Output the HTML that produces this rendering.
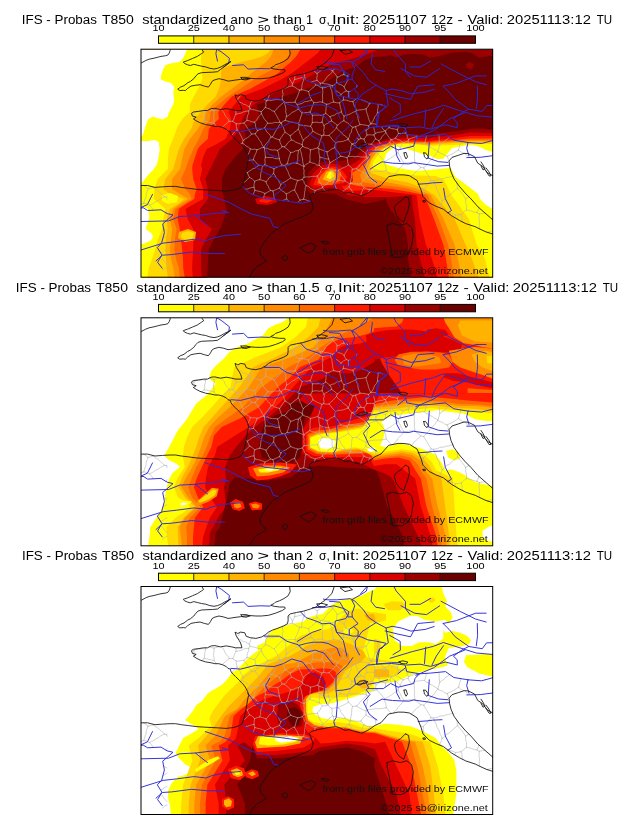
<!DOCTYPE html>
<html><head><meta charset="utf-8"><style>
html,body{margin:0;padding:0;background:#fff;}
svg{display:block;will-change:transform;}
.tt{font-family:"Liberation Sans",sans-serif;font-size:12.5px;fill:#000;}
.lb{font-family:"Liberation Sans",sans-serif;font-size:8.4px;fill:#000;}
.sm{font-family:"Liberation Sans",sans-serif;font-size:9px;fill:#111;}
</style></head><body>
<svg width="630" height="828" viewBox="0 0 630 828">
<defs><g id="LN" fill="none" stroke-linejoin="round" stroke-linecap="round">
<path d="M137.5,101.5 L138.5,104.2 L138.8,107.0 L139.4,109.7 M137.5,101.5 L135.0,101.0 L132.3,101.1 L129.7,100.6 L127.3,99.4 L124.6,99.4 M139.4,109.7 L137.0,109.9 L134.7,109.6 L132.4,108.6 L130.0,108.7 L127.7,108.6 L125.4,108.3 M125.4,108.3 L125.2,106.0 L125.1,103.8 L124.6,101.6 L124.6,99.4 M123.4,49.7 L126.4,51.9 M129.3,45.5 L128.6,48.6 L127.2,51.4 M127.2,51.4 L126.4,51.9 M112.0,51.7 L110.8,53.7 L110.0,55.9 L109.3,58.0 M100.4,46.0 L98.8,48.6 L97.2,51.2 M97.5,51.8 L99.3,53.1 L101.4,53.9 L103.2,55.3 L105.5,55.7 L107.3,57.0 L109.3,58.0 M121.2,62.8 L119.0,62.2 L116.7,61.7 L114.5,60.9 L112.3,60.7 L110.1,59.9 M121.2,62.8 L123.4,60.8 L125.3,58.5 M125.3,58.5 L126.0,56.3 L125.7,54.0 L126.4,51.9 M109.3,58.0 L110.1,59.9 M107.3,123.7 L109.2,122.4 L111.1,121.1 L113.0,119.7 L115.3,119.1 L117.0,117.6 L119.0,116.4 M107.3,123.7 L106.1,122.8 M119.0,116.4 L116.9,114.8 L115.4,112.6 L113.4,110.9 M113.4,110.9 L110.8,111.3 L108.1,111.3 M110.2,99.9 L112.4,100.5 L114.8,100.2 L117.0,100.8 M110.2,99.9 L109.8,102.1 L108.9,104.1 L107.8,106.1 M117.0,100.8 L116.3,103.4 L115.2,105.8 L114.0,108.2 L113.4,110.9 M92.7,72.4 L93.9,70.1 L94.7,67.6 L95.9,65.3 M92.7,72.4 L96.2,74.8 M107.0,71.5 L107.0,69.1 L107.5,66.8 L108.7,64.5 L108.7,62.1 M107.0,71.5 L103.9,74.1 M95.9,65.3 L98.5,64.6 L101.1,64.2 L103.5,63.0 L106.0,62.3 L108.7,62.1 M96.2,74.8 L98.8,74.9 L101.4,74.4 L103.9,74.1 M139.6,91.0 L140.9,89.0 L142.2,87.1 L143.4,85.1 L145.1,83.5 M139.6,91.0 L137.0,90.2 L134.5,89.4 L132.2,87.9 M132.2,87.9 L133.7,86.1 L134.7,83.9 L135.7,81.8 L137.5,80.1 L138.4,77.8 L139.5,75.7 L141.2,73.9 M145.1,83.5 L144.2,81.0 L143.5,78.6 L141.9,76.5 L141.3,74.0 M141.2,73.9 L141.3,74.0 M137.5,101.5 L140.0,99.9 L142.1,97.8 M142.1,97.8 L141.0,95.6 L140.1,93.4 L139.6,91.0 M124.6,99.4 L123.9,98.6 M123.9,98.6 L123.9,98.4 M132.2,87.9 L131.0,88.3 M123.9,98.4 L125.0,96.2 L126.6,94.3 L128.3,92.5 L129.6,90.3 L131.0,88.3 M114.6,73.2 L116.5,71.3 L117.8,68.9 L119.5,66.8 L121.4,64.9 M114.6,73.2 L115.5,75.3 L115.6,77.6 L116.4,79.8 L117.5,81.8 M117.5,81.8 L119.8,80.7 L122.2,79.9 L124.6,79.1 M124.6,79.1 L126.0,76.6 L127.6,74.3 M127.6,74.3 L126.5,72.3 L124.7,70.8 L123.5,68.9 L122.5,66.8 L121.4,64.9 M121.2,62.8 L121.4,64.9 M107.0,71.5 L109.6,71.9 L112.0,73.0 L114.6,73.2 M108.7,62.1 L110.1,59.9 M111.5,85.2 L110.4,83.2 L109.0,81.5 L107.8,79.6 L106.6,77.7 L105.4,75.8 L103.9,74.1 M111.5,85.2 L115.3,84.8 M115.3,84.8 L117.5,81.8 M115.3,84.8 L116.2,87.0 L118.0,88.5 L118.9,90.7 L120.5,92.4 L121.5,94.5 L122.5,96.6 L123.9,98.4 M131.0,88.3 L130.0,86.2 L128.6,84.5 L126.8,83.0 L125.8,81.0 L124.6,79.1 M139.8,73.3 L141.2,73.9 M139.8,73.3 L137.4,73.8 L134.9,73.3 L132.5,74.3 L130.0,74.4 L127.6,74.3 M125.3,58.5 L127.6,59.4 L130.0,60.1 L131.9,61.8 L134.3,62.5 M134.3,62.5 L135.3,64.7 L136.7,66.7 L137.6,69.0 L139.0,71.0 L139.8,73.3 M107.3,123.7 L108.3,126.1 L109.5,128.5 M109.5,128.5 L107.7,130.4 L105.8,132.3 L103.6,133.7 M160.1,151.2 L157.7,153.7 M160.1,151.2 L158.7,149.3 L157.9,147.1 L156.9,145.0 L155.5,143.1 L154.6,141.0 M146.2,145.0 L148.3,144.1 L150.3,142.9 L152.3,141.7 L154.6,141.0 M146.2,145.0 L146.6,147.5 L146.7,150.0 M149.1,152.6 L146.7,150.0 M192.5,129.5 L193.3,130.2 M192.5,129.5 L190.9,131.0 L188.9,132.1 L187.7,134.1 L186.1,135.6 L184.1,136.7 L182.5,138.2 M193.3,130.2 L193.7,132.9 L194.6,135.5 L195.6,138.1 L196.6,140.6 M182.5,138.2 L182.5,138.7 M182.5,138.7 L185.3,142.0 M188.2,118.9 L185.4,119.7 L182.5,119.6 M188.2,118.9 L189.7,120.7 L191.6,122.1 M182.5,119.6 L181.1,121.4 L180.2,123.5 L178.7,125.3 L177.3,127.1 M191.6,122.1 L192.3,124.5 L191.9,127.1 L192.5,129.5 M177.3,127.1 L178.2,129.4 L179.2,131.7 L180.2,133.9 L181.7,135.9 L182.5,138.2 M146.2,145.0 L144.6,143.3 L142.6,142.3 L140.9,140.9 L139.4,139.2 M139.4,139.2 L137.3,140.2 L135.1,141.1 L132.9,142.1 M146.7,150.0 L142.7,151.7 M132.9,142.1 L133.5,144.2 L133.7,146.4 L134.1,148.6 L134.6,150.8 M132.9,142.1 L130.6,141.5 M123.5,149.3 L124.1,146.9 L125.0,144.6 M125.0,144.6 L127.9,143.1 L130.6,141.5 M201.0,107.4 L199.3,105.3 L198.1,102.9 L196.2,101.0 L194.8,98.7 M201.0,107.4 L198.6,108.5 L196.6,110.1 L194.4,111.3 L192.1,112.6 L190.0,114.0 M190.0,114.0 L188.7,110.1 M188.7,110.1 L188.1,107.7 L187.3,105.3 L187.0,102.9 M187.0,102.9 L189.1,102.2 L190.7,100.5 L192.8,99.6 L194.8,98.7 M74.1,74.5 L74.1,72.0 L73.6,69.5 L73.6,67.0 L74.2,64.5 L73.9,61.9 M74.1,74.5 L71.6,73.7 L69.1,73.3 L66.6,72.6 L64.1,72.4 M64.1,72.4 L64.7,70.0 L64.6,67.5 L65.3,65.1 L65.5,62.7 M73.9,61.9 L71.6,61.4 L69.3,60.6 M65.5,62.7 L66.7,61.6 M89.2,72.4 L88.1,70.3 L86.5,68.5 L85.1,66.7 L84.3,64.3 L82.9,62.4 L81.5,60.5 M89.2,72.4 L87.3,73.8 L85.7,75.4 L83.8,76.8 L82.2,78.5 M76.4,77.5 L74.1,74.5 M79.4,60.4 L76.7,61.2 L73.9,61.9 M52.6,63.7 L53.9,64.5 M53.9,64.5 L53.8,67.6 M53.8,69.7 L53.8,70.3 M56.8,62.8 L53.9,64.5 M56.8,62.8 L56.8,62.7 M56.8,62.8 L59.7,62.8 L62.6,62.3 L65.5,62.7 M64.1,72.4 L61.7,74.4 M92.7,72.4 L89.2,72.4 M95.9,65.3 L95.8,61.6 M168.4,42.6 L169.1,44.7 L169.7,47.0 L170.7,49.1 L171.7,51.2 M168.4,42.6 L170.4,41.1 L172.1,39.3 L174.1,37.9 L175.7,36.0 M171.7,51.2 L173.8,53.6 M175.7,36.0 L178.2,36.7 L180.1,38.3 L182.5,39.0 M182.5,39.0 L182.7,41.4 L182.9,43.8 L182.4,46.1 L182.6,48.5 L182.6,50.8 L182.5,53.2 M173.8,53.6 L176.7,53.8 L179.6,53.0 L182.5,53.2 M154.8,26.7 L154.7,30.4 M148.9,29.0 L150.0,31.0 L151.3,32.9 L152.5,34.9 M154.7,30.4 L153.6,32.6 L152.5,34.9 M152.5,34.9 L152.3,37.0 M144.5,39.3 L147.1,38.5 L149.6,37.5 L152.3,37.0 M127.2,51.4 L129.4,51.3 L131.6,51.6 L133.8,50.9 L136.0,50.7 L138.2,50.6 L140.4,50.9 L142.6,50.9 M142.9,40.0 L142.4,42.7 L143.2,45.4 L142.2,48.1 L142.6,50.9 M134.3,62.5 L135.9,60.9 L137.3,59.1 L139.1,57.7 L140.6,55.9 L142.5,54.6 L144.0,52.9 M142.6,50.9 L144.0,52.9 M163.1,28.4 L160.3,29.0 L157.5,29.9 L154.7,30.4 M163.9,29.2 L163.5,31.6 L162.5,33.8 L162.0,36.1 L161.8,38.6 L161.2,40.9 M161.2,40.9 L159.6,41.2 M159.6,41.2 L157.1,39.9 L154.8,38.2 L152.3,37.0 M142.1,97.8 L144.1,97.9 M144.1,97.9 L146.2,96.5 L147.5,94.2 L149.4,92.5 L151.4,91.0 M145.1,83.5 L147.7,85.0 L150.1,86.7 M150.1,86.7 L150.7,88.9 L151.4,91.0 M97.1,80.8 L98.7,82.7 L99.9,84.9 L101.0,87.1 L102.1,89.3 L103.2,91.5 M97.1,80.8 L95.2,82.5 L93.5,84.4 L91.8,86.4 M100.5,95.3 L102.3,94.2 M102.3,94.2 L103.2,91.5 M111.5,85.2 L109.7,87.1 L107.6,88.7 L105.3,90.0 L103.2,91.5 M96.2,74.8 L96.3,77.8 L97.1,80.8 M110.2,99.9 L108.4,98.2 L106.1,97.2 L104.4,95.4 L102.3,94.2 M123.9,98.6 L121.5,98.9 L119.3,100.1 L117.0,100.8 M105.2,140.3 L107.4,140.1 L109.5,139.3 L111.7,138.6 L114.0,138.4 M113.1,145.7 L114.1,143.5 L114.9,141.3 M114.9,141.3 L114.0,138.4 M109.5,128.5 L112.3,130.1 L114.6,132.4 M114.6,132.4 L114.1,135.4 L114.0,138.4 M125.0,144.6 L122.6,143.5 L120.1,142.6 L117.4,142.1 L114.9,141.3 M166.1,136.7 L168.5,137.6 L170.5,139.4 L172.8,140.6 L175.2,141.5 M166.1,136.7 L165.2,138.9 L165.1,141.3 L164.6,143.5 L164.4,145.8 L164.2,148.1 L163.4,150.3 M175.2,141.5 L174.3,144.4 M163.4,150.3 L165.7,150.8 L167.8,151.9 L170.1,152.4 M177.3,127.1 L175.1,127.5 L172.8,127.4 L170.6,127.8 L168.4,128.1 L166.1,127.9 L163.9,128.5 M182.5,138.7 L180.2,139.9 L177.6,140.6 L175.2,141.5 M162.3,130.5 L163.9,128.5 M162.3,130.5 L163.8,132.4 L164.5,134.9 L166.1,136.7 M160.1,151.2 L163.4,150.3 M154.6,141.0 L155.4,138.7 L156.0,136.2 L156.7,133.8 L157.8,131.6 M157.8,131.6 L160.1,131.1 L162.3,130.5 M139.4,139.2 L140.9,135.6 M157.8,131.6 L155.4,130.8 L153.0,130.1 L150.8,129.0 M140.9,135.6 L142.6,133.9 L144.8,132.9 L146.8,131.7 L148.8,130.3 L150.8,129.0 M139.4,109.7 L139.9,112.0 L140.7,114.1 L142.0,116.1 M150.6,103.7 L148.7,101.5 L146.4,99.6 L144.1,97.9 M150.6,103.7 L149.9,106.0 L149.1,108.2 L148.5,110.5 L147.8,112.8 L147.0,115.0 M147.0,115.0 L144.9,116.6 M142.0,116.1 L144.9,116.6 M179.3,116.6 L176.8,116.1 L174.7,114.5 L172.1,114.1 L169.8,113.0 M179.3,116.6 L179.1,113.8 L179.7,111.0 L179.9,108.2 M169.8,113.0 L170.1,110.6 L170.0,108.2 L170.0,105.8 L170.4,103.4 L170.4,101.0 M179.9,108.2 L179.2,105.5 L178.8,102.7 L178.9,99.9 M170.4,101.0 L172.8,100.4 L175.3,99.7 L177.7,99.0 M177.7,99.0 L178.9,99.9 M182.5,119.6 L179.3,116.6 M163.9,128.5 L164.2,126.3 L163.8,124.1 L164.2,121.9 L163.5,119.7 L164.0,117.4 M164.0,117.4 L165.7,115.6 L167.9,114.6 L169.8,113.0 M188.2,118.9 L188.9,116.4 L190.0,114.0 M188.7,110.1 L186.4,110.0 L184.2,109.5 L182.0,108.8 L179.9,108.2 M187.0,102.9 L184.2,102.0 L181.6,100.9 L178.9,99.9 M195.7,94.0 L194.9,96.3 L194.8,98.7 M195.7,94.0 L193.9,92.2 L192.1,90.5 L190.7,88.3 L189.0,86.5 M189.0,86.5 L186.3,86.7 L183.6,86.1 M182.0,86.8 L183.6,86.1 M182.0,86.8 L181.2,89.2 L180.4,91.7 L179.5,94.1 L179.0,96.7 L177.7,99.0 M156.9,114.3 L159.3,115.4 L161.6,116.5 L164.0,117.4 M156.9,114.3 L157.4,111.8 L157.9,109.3 L157.7,106.6 L158.2,104.1 L158.4,101.6 M164.0,117.4 L163.3,115.0 L162.6,112.6 L162.6,110.1 L161.9,107.7 L161.5,105.2 L160.8,102.8 L159.9,100.4 M158.4,101.6 L159.9,100.4 M147.0,115.0 L149.5,115.2 L152.0,114.3 L154.4,114.0 L156.9,114.3 M164.0,117.4 L164.0,117.4 M150.8,129.0 L149.5,127.0 L148.7,124.9 L148.0,122.7 L146.8,120.7 L145.9,118.6 L144.9,116.6 M150.6,103.7 L153.3,103.2 L155.7,101.9 L158.4,101.6 M162.7,97.4 L159.9,100.4 M162.7,97.4 L165.2,98.7 L168.0,99.4 L170.4,101.0 M162.7,97.4 L162.2,95.9 M151.4,91.0 L153.7,91.8 L155.7,93.2 L157.8,94.1 L160.1,94.9 L162.2,95.9 M119.7,130.7 L122.9,131.5 L126.0,132.7 M119.7,130.7 L120.6,128.4 L120.6,126.0 L120.9,123.6 L121.7,121.4 L122.0,119.0 L123.0,116.8 M126.0,132.7 L127.7,131.2 L128.8,129.1 L130.8,128.0 L131.9,125.9 L133.6,124.4 M124.8,115.9 L123.0,116.8 M124.8,115.9 L127.2,116.8 L129.4,118.0 L131.8,118.8 L134.0,120.0 M134.0,120.0 L133.6,124.4 M114.6,132.4 L117.1,131.4 L119.7,130.7 M130.6,141.5 L129.1,139.5 L128.2,137.1 L126.7,135.1 L126.0,132.7 M119.0,116.4 L123.0,116.8 M140.9,135.6 L139.4,133.8 L138.7,131.6 L137.1,130.1 L135.8,128.2 L134.9,126.2 L133.6,124.4 M125.4,108.3 L124.8,110.8 L125.2,113.4 L124.8,115.9 M142.0,116.1 L140.0,117.2 L137.9,117.9 L135.9,118.8 L134.0,120.0 M191.6,122.1 L193.9,122.0 L196.1,121.4 L198.4,121.5 M193.3,130.2 L195.7,130.3 L198.0,131.2 L200.4,131.5 L202.7,132.1 L205.2,132.1 M205.2,132.1 L204.0,129.8 L202.4,127.9 L200.8,125.9 L200.1,123.4 L198.4,121.5 M207.1,108.9 L204.1,108.0 L201.0,107.4 M207.1,108.9 L207.5,111.3 L207.8,113.8 L208.5,116.1 M208.5,116.1 L206.5,117.3 L204.5,118.4 L202.4,119.3 L200.4,120.4 L198.4,121.5 M228.4,110.1 L226.7,108.9 M226.1,104.5 L226.2,108.0 M226.1,104.5 L226.4,103.7 M226.7,103.1 L228.1,100.4 M226.7,108.9 L226.2,108.0 M168.4,42.6 L166.0,41.8 L163.7,41.1 L161.2,40.9 M175.7,36.0 L175.6,34.7 M189.9,37.0 L189.9,37.0 M182.5,39.0 L185.1,38.7 L187.4,37.6 L189.9,37.0 M189.9,37.0 L190.4,37.2 M186.5,55.4 L184.5,54.4 L182.5,53.2 M186.5,55.4 L189.1,55.0 L191.4,53.7 L193.8,53.1 M190.5,37.3 L190.7,39.6 L191.8,41.7 L192.0,44.0 L192.4,46.3 L192.6,48.6 L193.0,50.9 L193.8,53.1 M185.6,64.5 L183.5,66.1 M185.6,64.5 L187.9,66.0 L189.9,67.9 M183.5,66.1 L183.0,68.5 L182.5,70.8 L182.1,73.2 M189.9,67.9 L191.1,69.8 L191.6,72.0 M191.6,72.0 L189.5,73.0 L187.8,74.4 L185.7,75.3 L184.0,76.8 M182.1,73.2 L184.0,76.8 M173.8,53.6 L173.1,56.0 L171.9,58.3 L171.2,60.8 L170.1,63.1 M186.5,55.4 L186.2,57.7 L186.0,59.9 L185.8,62.2 L185.6,64.5 M170.1,63.1 L172.4,66.4 M172.4,66.4 L174.6,66.2 L176.9,66.3 L179.1,66.1 L181.3,66.5 L183.5,66.1 M172.4,66.4 L172.4,68.9 L172.3,71.3 L172.3,73.8 M172.3,73.8 L174.7,73.4 L177.2,73.3 L179.7,73.8 L182.1,73.2 M189.0,86.5 L190.8,84.5 L193.0,82.9 L194.7,80.9 L196.5,78.9 M183.6,86.1 L184.1,83.8 L183.5,81.4 L184.3,79.1 L184.0,76.8 M196.5,78.9 L197.2,76.4 M197.2,76.4 L195.5,74.7 L193.5,73.4 L191.6,72.0 M159.0,75.8 L161.3,76.3 L163.6,76.7 L166.0,76.8 L168.3,77.2 L170.6,77.4 M159.0,75.8 L158.8,78.2 L158.2,80.4 M158.2,80.4 L159.6,82.4 L160.1,84.8 L161.3,86.9 L162.0,89.2 L163.4,91.2 M163.4,91.2 L165.2,89.3 L167.4,87.9 L169.4,86.2 L171.2,84.3 L172.9,82.3 M172.9,82.3 L172.1,79.7 L170.6,77.4 M170.1,63.1 L167.5,63.6 L164.8,63.8 L162.1,63.8 M172.3,73.8 L170.6,77.4 M162.1,63.8 L161.6,66.0 L160.7,68.2 L160.1,70.4 L159.3,72.6 L158.2,74.7 M158.2,74.7 L159.0,75.8 M141.3,74.0 L143.0,72.4 L145.2,71.6 M150.1,86.7 L152.3,85.5 L154.0,83.5 L156.2,82.1 L158.2,80.4 M145.2,71.6 L147.4,72.1 L149.5,72.8 L151.6,73.4 L153.9,73.5 L156.0,74.2 L158.2,74.7 M162.2,95.9 L162.5,93.5 L163.4,91.2 M182.0,86.8 L179.6,85.8 L177.3,84.8 L175.1,83.6 L172.9,82.3 M229.8,140.7 L228.0,144.0 M229.8,140.7 L232.9,140.7 M235.6,133.7 L235.9,133.1 M235.6,133.7 L235.8,137.1 M202.3,142.9 L204.5,141.1 L206.8,139.6 L209.0,137.9 M209.0,137.9 L210.7,140.1 L212.2,142.5 L213.6,144.9 M205.2,132.1 L207.5,133.7 L210.2,134.8 M209.0,137.9 L210.2,134.8 M229.8,140.7 L226.8,140.1 L224.1,138.6 M220.7,146.7 L221.4,143.8 L222.6,141.2 L224.1,138.6 M215.5,77.7 L213.1,78.4 M215.5,77.7 L216.1,80.0 L217.1,82.1 L217.9,84.4 L219.0,86.5 M213.1,78.4 L211.7,80.6 L211.4,83.2 L209.8,85.3 L209.4,87.8 L208.2,90.1 M214.9,94.1 L212.2,95.2 M208.2,90.6 L210.1,92.9 L212.0,95.2 M208.2,90.6 L208.2,90.1 M212.2,95.2 L212.0,95.2 M228.6,76.9 L228.8,78.7 M228.6,76.9 L225.7,76.3 L222.9,75.8 L220.0,75.7 M220.0,75.7 L217.8,76.9 L215.5,77.7 M203.9,71.8 L205.8,73.1 L207.8,74.1 L209.5,75.6 L211.0,77.4 L213.1,78.4 M203.9,71.8 L201.5,73.0 L199.4,74.8 L197.2,76.4 M196.5,78.9 L198.0,80.7 L199.6,82.3 L201.6,83.6 L202.9,85.6 L204.9,86.9 L206.8,88.3 L208.2,90.1 M226.1,104.5 L224.2,103.2 L222.4,101.9 L220.7,100.6 L218.8,99.4 L216.9,98.3 M215.5,97.4 L212.2,95.2 M207.1,108.9 L208.4,107.3 M195.7,94.0 L198.1,92.9 L200.8,92.8 L203.3,92.3 L205.8,91.4 L208.2,90.6 M208.4,107.3 L209.6,105.0 L209.9,102.5 L210.8,100.1 L211.0,97.5 L212.0,95.2 M208.4,107.3 L210.7,107.7 L212.9,107.4 L215.1,107.9 L217.3,107.5 L219.5,107.9 L221.8,108.1 L224.0,108.1 L226.2,108.0 M212.9,52.7 L213.6,55.0 L214.2,57.3 L215.8,59.3 L216.3,61.7 M212.9,52.7 L210.4,52.6 L208.1,51.8 L205.8,51.1 L203.3,51.1 M216.1,62.3 L213.6,63.2 L211.3,64.4 L209.0,65.6 L206.4,66.3 L204.0,67.2 M216.1,62.3 L216.3,61.7 M199.5,54.0 L201.4,52.5 L203.3,51.1 M199.5,54.0 L200.0,56.2 L200.3,58.5 L201.1,60.6 L201.3,62.9 M201.3,62.9 L202.4,65.2 L204.0,67.2 M220.0,75.7 L219.2,73.5 L218.4,71.3 L217.9,69.0 L217.8,66.7 L216.4,64.6 L216.1,62.3 M203.9,71.8 L203.8,69.5 L204.0,67.2 M193.8,53.1 L196.6,53.9 L199.5,54.0 M189.9,67.9 L192.2,66.8 L194.6,66.2 L196.6,64.5 L199.2,64.2 L201.3,62.9 M229.4,54.8 L228.0,57.5 L226.1,59.9 M229.4,54.8 L230.8,54.1 M238.0,55.5 L238.2,58.2 L237.6,60.8 L237.6,63.4 M238.0,55.5 L237.9,55.4 M226.1,59.9 L226.3,62.2 L227.0,64.4 L227.8,66.5 L228.3,68.7 L228.9,70.8 L229.9,72.9 L230.6,75.0 M237.6,63.4 L236.6,65.9 L234.7,67.9 L233.8,70.3 L232.6,72.7 L231.1,74.9 M231.1,74.9 L230.6,75.0 M221.4,50.8 L223.4,51.8 L225.6,52.4 L227.6,53.4 L229.4,54.8 M216.3,49.9 L212.9,52.7 M216.3,61.7 L218.7,61.1 L221.2,60.9 L223.7,60.6 L226.1,59.9 M242.5,56.3 L240.4,55.5 L238.0,55.5 M238.9,64.1 L237.6,63.4 M228.6,76.9 L230.6,75.0 M236.7,75.5 L233.9,74.9 L231.1,74.9 M203.3,51.1 L203.6,47.6 M144.7,53.4 L147.3,53.7 L149.9,53.4 L152.5,53.5 L155.1,53.2 M144.7,53.4 L144.9,55.8 L145.6,58.1 L145.9,60.5 L145.6,63.0 L146.4,65.3 L146.4,67.7 M146.4,67.7 L148.5,66.6 L150.4,65.1 L152.1,63.5 L154.4,62.6 L156.4,61.2 L158.4,60.0 M155.1,53.2 L157.1,55.6 M157.1,55.6 L158.1,57.7 L158.4,60.0 M144.0,52.9 L144.7,53.4 M159.6,41.2 L158.9,43.7 L158.0,46.1 L157.0,48.5 L155.8,50.8 L155.1,53.2 M145.2,71.6 L146.4,67.7 M162.1,63.8 L160.0,62.1 L158.4,60.0 M171.7,51.2 L169.2,52.0 L166.8,52.6 L164.3,53.0 L162.1,54.5 L159.6,55.2 L157.1,55.6 M221.0,134.9 L218.4,135.1 L215.7,134.9 L213.1,134.9 L210.5,134.5 M221.0,134.9 L222.3,132.6 L224.1,130.7 L225.9,128.8 M210.5,134.5 L210.6,132.1 L211.1,129.8 L211.6,127.4 L211.7,125.0 L211.8,122.7 L212.5,120.3 M226.1,124.7 L225.9,128.8 M226.1,124.7 L223.5,123.8 L221.1,122.5 L218.7,121.3 L216.4,119.8 M216.4,119.8 L212.5,120.3 M210.2,134.8 L210.5,134.5 M224.1,138.6 L222.6,136.8 L221.0,134.9 M235.6,133.7 L233.3,132.2 L230.8,131.1 L228.2,130.3 L225.9,128.8 M208.5,116.1 L210.8,118.0 L212.5,120.3 M227.3,123.8 L226.1,124.7 M226.7,108.9 L225.3,111.0 L223.3,112.6 L221.6,114.4 L219.7,116.1 L218.4,118.2 L216.4,119.8 M0.0,153.4 L1.6,155.1 M1.6,155.1 L0.0,157.1 M27.0,147.8 L26.6,148.2 M26.6,148.2 L27.0,150.1 M3.5,136.6 L5.9,138.1 L8.1,139.9 M13.4,138.1 L13.1,138.6 M8.1,139.9 L10.6,139.4 L13.1,138.6 M1.6,155.1 L3.7,154.3 M3.7,154.3 L4.5,151.9 L5.2,149.5 L6.2,147.2 L6.3,144.6 L7.1,142.2 L8.1,139.9 M26.6,148.2 L24.7,147.8 M24.7,147.8 L22.8,146.2 L20.9,144.7 L19.2,142.8 L17.2,141.3 L15.1,140.1 L13.1,138.6 M24.7,147.8 L22.4,148.8 L20.2,150.1 L18.3,151.7 L15.9,152.6 L13.9,154.1 L11.7,155.3 L9.4,156.4 M3.7,154.3 L6.7,155.0 L9.4,156.4 M9.4,156.4 L11.7,158.6 L13.3,161.3 M27.0,162.3 L25.9,164.0 M27.0,218.7 L24.4,220.1 L22.2,222.0 M22.0,231.8 L22.4,232.0 M27.0,181.7 L23.7,180.2 M22.9,189.3 L25.1,188.3 L27.0,186.9 M27.0,200.3 L24.8,201.3 L22.8,202.9 L20.6,203.9 M27.0,215.5 L25.4,213.6 L23.7,211.8 L22.5,209.6 L20.9,207.8 M284.4,94.3 L285.3,92.0 L285.9,89.6 L286.4,87.2 M284.4,94.3 L286.1,95.9 L288.3,96.6 L290.0,98.1 L292.2,98.9 L293.9,100.4 L296.0,101.2 L297.8,102.7 M297.8,102.7 L298.5,100.5 L299.2,98.3 L299.8,96.1 M299.8,96.1 L299.4,93.6 L299.2,91.1 L299.2,88.6 L298.8,86.1 M274.3,95.2 L276.8,94.9 L279.3,94.7 L281.8,94.2 L284.4,94.3 M339.3,165.1 L342.2,164.5 L345.2,164.3 M339.3,165.1 L339.1,167.6 L339.0,170.1 L339.6,172.6 L339.3,175.1 L339.3,177.6 L339.8,180.1 M347.4,183.4 L349.5,182.6 L351.7,182.1 L354.0,181.7 M339.3,165.1 L337.0,163.8 M337.0,163.8 L338.1,161.3 L338.9,158.8 M299.8,96.1 L301.6,94.4 L303.9,93.3 L305.5,91.3 L307.7,90.0 L309.5,88.2 M297.8,103.0 L300.1,104.2 L302.6,104.9 L304.7,106.6 L307.2,107.4 M297.8,103.0 L297.8,102.7 M318.5,101.0 L316.3,102.5 L314.1,103.9 L311.9,105.2 L309.4,106.2 L307.2,107.4 M318.5,101.0 L319.2,98.9 L319.5,96.7 L320.5,94.7 L320.8,92.4 M328.2,107.1 L326.2,106.1 L324.5,104.4 L322.2,103.8 L320.3,102.4 L318.5,101.0 M273.8,96.9 L274.3,99.3 L274.2,101.7 L274.4,104.0 L274.6,106.4 L274.3,108.8 L274.7,111.2 L275.0,113.5 M258.6,100.9 L258.1,103.7 M258.1,103.7 L259.2,105.9 L260.5,107.9 L261.3,110.1 L262.7,112.1 L263.9,114.2 M275.0,113.5 L272.8,113.4 L270.5,113.4 L268.3,113.8 L266.1,114.1 L263.9,114.2 M312.7,127.2 L312.8,127.2 M312.7,127.2 L312.6,126.8 M309.4,115.2 L308.4,112.6 L308.2,109.9 L307.2,107.4 M293.2,131.8 L295.4,131.5 L297.6,131.0 L299.6,130.0 L301.9,129.7 L304.1,129.6 L306.2,128.5 L308.5,128.5 L310.6,127.7 L312.7,127.2 M293.2,131.8 L294.3,133.7 L295.1,135.8 L296.2,137.8 L296.6,140.0 L297.5,142.1 L298.9,143.9 L299.6,146.0 L300.1,148.2 L301.5,150.1 L302.1,152.2 M317.0,134.2 L317.2,136.8 L317.5,139.4 M302.1,152.2 L304.0,151.0 L305.6,149.4 L307.0,147.7 L309.2,146.8 L310.8,145.3 L312.4,143.7 L314.0,142.2 L315.8,140.9 L317.5,139.4 M329.0,148.0 L325.5,149.9 M317.5,139.4 L318.9,141.1 L320.4,142.7 L321.8,144.5 L323.2,146.2 L324.4,148.0 L325.5,149.9 M337.0,163.8 L334.3,163.3 L331.8,162.3 L329.2,161.6 L326.6,161.0 M325.5,149.9 L325.7,152.2 L325.7,154.4 L326.5,156.5 L326.5,158.8 L326.6,161.0 M258.1,103.7 L256.4,105.3 L254.4,106.4 L252.6,107.9 L250.7,109.2 L248.8,110.4 L246.7,111.5 L244.8,112.7 M237.2,102.4 L236.8,103.5 M236.8,103.5 L238.2,105.5 L240.1,107.0 L241.4,109.1 L243.3,110.7 L244.8,112.7 M251.4,127.2 L249.6,125.5 L248.0,123.4 L246.3,121.5 M263.9,114.2 L262.7,116.2 L261.0,117.8 L259.5,119.5 L257.8,121.2 L256.9,123.4 L254.9,124.8 L253.7,126.8 M246.3,121.5 L246.0,119.3 L245.6,117.1 L244.7,115.0 L244.8,112.7 M280.5,139.9 L283.4,140.3 M271.0,127.8 L272.9,126.5 L274.1,124.5 L275.9,123.1 L277.5,121.5 L279.4,120.2 L280.7,118.4 M283.4,140.3 L285.0,138.6 L286.8,137.1 L287.8,134.8 L289.7,133.3 L291.1,131.4 M291.1,131.4 L289.9,129.3 L288.6,127.3 L287.5,125.2 L286.2,123.1 L284.8,121.1 L283.7,119.0 M283.7,119.0 L280.7,118.4 M284.0,148.7 L283.9,145.9 L283.3,143.1 L283.4,140.3 M275.0,113.5 L276.9,115.1 L278.8,116.7 L280.7,118.4 M293.2,131.8 L291.1,131.4 M302.1,152.2 L301.5,154.5 L300.4,156.6 L299.6,158.8 M297.8,103.0 L296.2,104.6 L295.0,106.7 L293.3,108.4 L291.9,110.3 L289.9,111.8 L288.7,113.9 L287.0,115.6 L285.3,117.2 L283.7,119.0 M321.0,165.5 L318.3,166.0 L315.6,166.3 M321.0,165.5 L322.1,168.0 L322.0,170.9 L323.1,173.4 M315.6,166.3 L314.6,168.6 M306.3,162.6 L308.7,163.3 L310.9,164.6 L313.3,165.2 L315.6,166.3 M326.6,161.0 L324.7,162.4 L322.9,164.1 L321.0,165.5 M228.6,106.3 L228.6,106.6 M227.9,110.7 L227.7,113.4 L227.1,116.1 L226.6,118.8 L226.2,121.5 M228.6,106.3 L228.2,106.1 M236.8,103.5 L234.0,104.3 L231.3,105.2 L228.6,106.3 M246.3,121.5 L243.9,121.9 L241.5,122.4 L239.1,122.5 L236.7,122.6 L234.3,122.6 L231.9,123.1 L229.5,123.4 L227.1,123.5 M274.1,95.9 L271.2,97.4 M271.2,97.4 L271.2,97.9 M255.4,89.2 L253.4,90.4 L251.2,90.8 M255.4,89.2 L257.3,90.4 L259.5,91.1 L261.3,92.5 L263.2,93.6 M251.2,90.8 L252.9,92.6 L254.7,94.3 L256.9,95.7 L258.6,97.6 L260.3,99.4 M263.2,93.6 L261.4,96.3 L260.3,99.4 M271.2,97.4 L269.3,94.9 L268.1,92.1 M268.1,92.1 L265.6,92.7 L263.2,93.6 M260.1,100.5 L260.3,99.4 M277.1,90.0 L276.6,87.3 M268.1,92.1 L268.6,90.6 M268.6,90.6 L271.2,89.4 L273.9,88.5 L276.6,87.3 M265.9,84.1 L266.3,83.3 M265.9,84.1 L263.5,84.3 L261.0,84.7 L258.5,84.5 M258.5,84.5 L257.3,80.9 M257.3,80.9 L258.6,78.1 M264.6,78.7 L265.5,80.2 M255.4,89.2 L257.0,86.9 L258.5,84.5 M268.6,90.6 L267.3,88.6 L267.1,86.1 L265.9,84.1 M249.4,77.4 L249.0,78.7 M249.0,78.7 L251.7,79.7 L254.5,80.1 L257.3,80.9 M216.6,89.4 L218.8,90.4 M219.2,86.2 L221.0,89.7 M221.0,89.7 L218.8,90.4 M215.0,95.0 L217.0,92.7 L218.8,90.4 M215.5,97.4 L216.7,98.2 M276.6,87.3 L276.7,87.1 M240.5,95.5 L238.8,91.8 M240.5,95.5 L243.0,96.2 L245.6,96.9 M238.8,91.8 L240.9,90.1 L242.1,87.6 L244.0,85.7 L245.9,83.8 M245.6,96.9 L247.6,95.0 L249.8,93.3 M245.9,83.8 L247.4,86.3 L249.2,88.6 L251.0,90.8 M251.0,90.8 L249.8,93.3 M249.0,78.7 L247.2,80.5 L245.4,82.1 M251.2,90.8 L251.0,90.8 M245.4,82.1 L245.9,83.8 M253.3,98.6 L251.2,96.2 L249.8,93.3 M224.0,90.2 L225.6,88.2 L227.0,86.1 M224.0,90.2 L221.0,89.7 M227.0,86.1 L226.4,83.6 L225.9,81.2 M225.4,80.7 L225.9,81.2 M228.0,102.0 L228.3,102.4 M231.2,95.3 L233.8,96.8 L236.0,98.8 M231.2,95.3 L228.6,95.2 L225.9,95.4 M225.9,95.4 L225.8,95.9 M235.4,102.4 L235.6,102.2 M235.6,102.2 L236.0,98.8 M217.9,98.5 L221.9,97.6 M235.5,89.9 L238.8,91.8 M235.5,89.9 L234.1,91.7 L232.8,93.6 L231.2,95.3 M240.5,95.5 L238.3,97.4 L236.0,98.8 M224.0,90.2 L225.0,92.8 L225.9,95.4 M227.0,86.1 L229.3,85.9 L231.6,86.0 L234.0,86.1 M234.0,86.1 L235.5,89.9 M236.2,102.4 L235.6,102.2 M245.6,100.8 L245.6,96.9 M241.5,77.7 L242.8,80.0 L244.7,81.9 M233.6,78.3 L234.4,81.4 L235.2,84.6 M244.7,81.9 L242.4,82.8 L240.0,83.2 L237.5,83.6 L235.2,84.6 M245.4,82.1 L244.7,81.9 M225.9,81.2 L228.0,80.2 L229.7,78.7 M234.0,86.1 L235.2,84.6 M208.4,42.9 L210.6,42.4 M208.4,42.9 L208.4,45.9 L208.8,48.9 M199.9,46.9 L201.1,45.5 M208.4,42.9 L206.4,42.0 M206.4,42.0 L203.5,43.4 L201.1,45.5 M201.1,45.5 L199.3,43.9 L197.3,42.6 L195.3,41.4 M216.5,38.4 L217.1,36.4 M165.1,30.4 L164.6,27.4 L164.2,24.4 M206.4,42.0 L205.0,40.1 L204.1,37.9 M208.5,30.7 L206.9,33.0 L205.5,35.4 L204.1,37.9 M207.9,27.2 L203.9,25.7 M207.9,27.2 L208.8,25.9 M203.9,25.7 L204.0,22.4 M208.3,28.0 L207.9,27.2 M204.1,37.9 L201.9,36.2 L199.1,35.3 L196.7,33.8 M203.9,25.7 L201.5,26.2 L199.5,27.6 L197.2,28.2 M197.2,28.2 L196.6,31.0 L196.7,33.8 M192.3,38.3 L192.3,36.8 M192.3,36.8 L194.8,35.7 L196.7,33.8 M192.6,21.9 L189.6,20.4 M192.6,21.9 L192.7,22.0 M192.7,22.0 L191.5,24.0 L189.9,25.6 L187.9,26.9 L186.5,28.7 L185.3,30.6 L184.2,32.6 L182.5,34.1 M181.2,21.2 L179.4,23.2 L177.0,24.5 M177.0,24.5 L177.3,26.8 L176.7,29.2 L177.1,31.5 M177.1,31.5 L180.3,34.3 M180.3,34.3 L182.5,34.1 M194.6,19.8 L192.6,21.9 M197.2,28.2 L195.9,26.0 L194.1,24.1 L192.7,22.0 M192.3,36.8 L189.9,35.9 L187.5,35.1 L184.9,35.0 L182.5,34.1 M173.6,21.5 L175.1,23.2 L177.0,24.5 M171.2,33.2 L174.1,32.2 L177.1,31.5 M180.1,36.6 L180.3,34.3" stroke="#b4b4b4" stroke-width="0.6"/>
<path d="M90.9,82.2 L100.6,82.9 L115.4,79.2 L133.9,80.4 L143.4,77.4 L151.8,72.8 L162.7,75.9 L170.8,86.3 L183.2,93.9 L184.7,100.5 L183.8,109.8 L187.0,118.0 M124.5,49.9 L139.4,50.0 L147.0,55.1 L158.2,58.6 L162.9,63.4 L167.3,65.7 L175.4,64.0 L184.0,66.9 L193.6,78.8 M159.0,59.2 L166.4,57.2 L173.8,56.0 L182.0,56.0 L188.1,57.3 L197.0,61.9 L200.0,69.9 M157.4,55.1 L164.8,50.6 L172.1,46.2 L181.0,43.2 M215.6,98.0 L210.5,102.4 L203.1,103.9 L196.1,104.5 L197.4,116.8 L196.2,131.3 L193.7,135.3 L194.9,139.4 M196.1,104.5 L195.9,96.5 L196.1,89.4 L201.2,84.7 L207.1,79.5 L212.9,71.4 M107.8,106.9 L115.9,118.1 L124.5,123.9 L133.8,127.6 L146.2,136.5 L139.8,142.4 L135.4,145.4 L134.0,149.8 M116.9,115.8 L131.8,118.0 L146.7,117.2 L160.0,111.3 M129.8,92.1 L125.5,99.5 L128.6,105.4 L137.6,108.4 M236.7,77.9 L239.5,62.8 L248.3,56.6 L246.1,41.8 L236.0,36.4 L228.4,31.0 L226.3,27.8 L223.4,23.7 L214.7,14.7 L210.2,12.5 L196.8,13.6 L187.8,13.6 L183.4,12.9 M236.7,77.9 L251.7,76.5 L260.6,76.4 M236.0,36.4 L221.9,45.5 L215.2,54.8 L215.6,61.1 L219.5,68.8 M189.4,15.1 L199.8,15.9 L207.5,29.2 L205.7,32.4 L195.3,34.8 L194.8,39.7 L196.7,46.2 L203.3,54.2 L206.9,69.9 M246.1,41.8 L252.1,40.1 L261.4,41.8 L270.9,44.9 L285.3,43.2 L294.2,40.3 M250.1,72.1 L272.2,65.4 L293.5,60.1 L303.4,56.3 L323.8,62.9 L336.3,66.8 L354.3,68.4 M230.2,120.2 L238.9,114.7 L242.0,112.9 L252.5,114.3 L268.9,115.0 L273.6,113.8 L288.2,115.8 L297.2,117.2 L309.1,116.5 M289.3,93.6 L288.1,109.2 L298.6,112.8 L307.6,113.5 M255.0,95.0 L256.8,106.9 L259.9,112.8 M65.3,145.4 L88.6,153.2 L101.4,160.2 L112.2,165.3 L129.9,169.5 L133.4,177.8 L138.6,179.1 M82.1,161.6 L88.5,163.6 L70.4,165.0 L55.4,166.8 L39.7,167.6 L28.6,172.0 L-2.6,172.7 M100.4,185.3 L84.1,186.8 L72.2,189.3 L66.0,191.8 L53.9,190.4 L36.5,192.7 L23.1,194.2 L-0.6,201.6 M84.4,204.6 L68.0,204.6 L51.6,203.1 L31.7,205.7 L22.3,206.3 L16.0,212.0 M129.9,19.9 L120.9,19.6 L108.0,20.2 L103.6,15.9 L92.5,16.6 M83.6,18.1 L88.8,14.2 L89.4,9.3 L81.8,3.3 L74.3,-1.2 M-5.8,161.6 L7.4,155.7 L12.5,145.4 M307.9,164.0 L311.5,161.6 L305.3,149.8 L303.6,139.4 M278.2,135.3 L287.1,134.7 L292.3,134.0 L302.0,133.5 M67.5,176.4 L59.9,170.5 L55.4,166.8 M248.5,-10.0 L256.2,4.8 L265.4,15.1 L265.5,22.5 L270.1,28.4 M301.1,15.1 L320.7,25.5 L335.7,32.9 L346.2,35.8 M337.3,37.3 L337.6,49.2 L336.3,59.5 M249.7,49.2 L260.2,55.1 L260.4,64.0 L253.0,68.4 M303.5,59.5 L296.3,69.9 L292.0,78.8 M324.5,64.0 L309.7,69.9 L293.5,81.7 L275.8,89.1 M285.7,61.0 L284.5,77.3 M232.4,4.8 L231.1,15.1 L235.7,21.0 L244.6,22.5 M220.5,7.7 L232.2,-5.6 M261.0,19.6 L274.5,27.0 L286.5,28.4 L299.7,19.6 M228.3,98.0 L237.2,96.5 L247.6,93.6 M257.9,87.6 L265.2,81.7 M-6.9,162.1 L3.0,158.7 L7.6,161.6 L21.0,160.9 L27.0,164.6 L33.0,166.1 L22.7,175.0 L24.4,183.8 L21.6,194.2 L17.3,198.6 L21.9,206.0 L17.6,213.4 L22.2,219.4 M102.0,137.5 L110.0,144.6 L118.0,147.5 L125.0,149.8 L132.0,150.5 L140.0,151.3 L150.5,152.8 L162.5,154.3 L171.3,152.1 M160.5,25.6 L166.0,31.4 L172.0,33.5 L178.0,35.5 L182.0,37.6 L190.0,37.0 L194.8,39.7 L196.6,46.2 L203.0,47.5 L208.9,48.9 L213.0,50.0 L217.6,49.8 L222.0,51.0 L227.7,53.6 L236.0,55.0 L245.8,57.0 L242.0,62.0 L239.8,62.4 L238.0,66.0 L236.7,69.9 L236.7,77.9 L232.0,78.5 L227.9,78.8 L220.4,84.7 L214.5,92.1 L215.6,98.0 L220.0,99.0 L225.4,95.1 L228.6,101.4 L226.3,103.5 L229.9,108.4 L223.4,115.8 L226.0,121.0 L229.0,127.6 L233.0,131.0 L236.9,133.8 M172.5,21.5 L186.5,21.0 L193.9,19.6 L204.4,22.5 L208.9,25.5 L207.6,30.7 L212.3,30.7 L215.1,34.4 L218.1,37.3 L213.7,40.3 L209.3,43.2 L209.4,48.4 M213.7,40.3 L218.3,44.7 L217.9,49.8 M229.1,-7.1 L226.4,4.8 L222.0,7.7 L211.7,13.6 L214.8,19.6 L212.0,27.0 L212.3,30.7 M236.7,77.9 L251.7,77.3 L265.1,78.8 L266.8,85.4 L279.5,87.6 L275.1,92.1 L273.7,97.3 L258.2,101.0 L250.6,97.3 L243.3,102.4 L228.4,102.4 M266.6,78.8 L280.0,78.0 L290.5,80.2 L305.3,75.8 L317.3,78.8 L317.2,73.6 L313.4,69.9 L322.9,63.2 L328.8,60.3 M279.5,87.6 L290.6,86.9 L305.5,85.4 L313.8,91.3 L328.0,93.6 M303.1,37.3 L309.1,43.2 L315.2,50.6 L328.8,60.3 L342.3,62.5 L346.6,56.6 L354.1,56.6 M328.0,93.6 L326.7,99.5 L329.0,106.9 M328.0,93.6 L341.5,94.6 L356.3,90.6 L362.2,90.6 M326.8,108.7 L340.2,108.4 L352.1,106.9 L358.0,101.0 M77.5,12.2 L75.9,4.8 L77.2,-2.6 L75.7,-7.1 M303.1,37.3 L316.4,34.4 L335.6,27.0 L346.1,27.0 M269.9,18.1 L280.3,18.1 L290.6,12.2 M245.1,44.7 L257.1,47.7 L270.5,50.6 L277.7,37.3 L294.1,35.8" stroke="#2a2ad8" stroke-width="0.95"/>
<path d="M0.0,14.5 L1.7,13.8 L5.6,11.7 L9.1,10.3 L14.0,9.3 L18.2,8.2 L21.0,7.5 L25.8,6.8 L27.9,6.1 L29.3,4.0 L30.0,1.9 L30.7,-1.0 M62.2,-1.0 L62.2,0.9 L63.6,3.3 L61.5,4.7 L57.3,7.5 L52.4,9.6 L47.5,11.7 L43.3,13.1 L44.4,14.5 L47.5,15.9 L50.3,16.6 L53.8,15.4 L57.3,16.3 L61.5,17.3 L65.7,18.0 L69.8,19.4 L74.0,20.1 L77.5,19.4 L81.0,18.0 L84.5,15.9 L88.0,14.2 L91.0,12.5 L88.0,14.9 L83.8,18.0 L80.3,20.8 L77.5,22.8 L72.6,23.3 L67.0,23.5 L61.5,23.8 L58.0,24.9 L55.9,27.0 L53.8,29.8 L50.3,32.6 L47.5,34.0 L44.0,36.8 L40.5,38.2 L37.7,40.3 L39.8,41.7 L43.3,41.4 L45.4,41.7 L47.5,39.6 L51.0,37.2 L55.2,36.4 L60.1,35.8 L64.3,37.2 L68.4,38.2 L70.5,35.4 L71.9,32.6 L74.0,31.2 L78.9,29.8 L83.8,30.8 L88.0,32.2 L90.8,31.9 L95.0,31.2 L100.6,30.5 L104.8,29.8 L110.3,29.4 L115.9,29.8 L121.5,29.8 L128.5,29.1 L135.5,27.0 L142.5,24.2 L145.3,22.2 L144.6,20.8 L139.7,20.8 L134.1,20.1 L130.6,19.1 L134.1,17.3 L135.5,15.9 L139.7,14.5 L143.9,12.4 L148.1,9.6 L150.2,5.4 L149.5,-1.0 M101.0,28.5 L106.0,28.4 L110.3,29.6 L106.0,31.0 L102.0,30.5 L101.0,28.5 M194.7,-1.0 L193.8,1.7 L191.9,7.3 L188.2,11.0 L185.4,13.9 L182.6,15.7 L178.8,18.5 L176.0,20.8 L170.4,22.8 L163.4,25.0 L156.4,26.3 L150.2,27.7 L148.1,29.8 L148.1,34.7 L147.4,37.5 L143.9,39.6 L136.9,42.4 L132.7,43.8 L128.5,45.9 L125.7,48.3 L121.5,50.8 L115.9,52.2 L110.3,51.5 L106.2,50.1 L104.8,46.6 L100.6,45.9 L97.8,47.3 L95.0,45.9 L96.4,50.1 L99.2,54.3 L100.6,56.8 L102.0,61.6 L95.5,61.6 L91.8,60.7 L86.2,59.7 L80.5,60.7 L74.9,59.4 L71.2,59.7 L67.4,61.6 L63.7,61.6 L58.1,62.5 L53.4,63.1 L51.5,64.4 L52.4,67.2 L56.2,68.2 L53.4,70.0 L56.2,71.9 L59.9,73.8 L65.6,75.7 L71.2,76.6 L74.9,77.5 L78.7,77.5 L82.4,78.5 L86.2,80.3 L88.0,82.2 L90.5,83.0 L90.8,85.0 L92.7,87.7 L95.5,90.3 L99.3,94.1 L102.1,97.1 L104.0,99.0 L105.8,101.8 L107.7,105.5 L108.6,109.2 L107.7,113.0 L106.8,118.6 L105.8,124.2 L104.9,128.0 L103.5,134.0 L102.0,137.5 L99.3,139.4 L93.7,141.3 L86.2,142.2 L78.7,141.7 L71.2,141.3 L63.7,140.9 L56.2,140.4 L48.7,139.4 L41.2,138.5 L35.6,137.5 L30.0,137.5 L22.5,137.9 L15.0,138.5 L7.5,136.6 L1.9,136.6 L0.0,137.0 M108.0,231.0 L109.0,229.0 L113.0,222.0 L117.0,217.7 L120.7,215.8 L126.4,212.0 L120.7,206.4 L119.8,200.8 L124.5,193.3 L130.1,185.8 L133.9,182.1 L137.6,180.2 L145.1,174.6 L154.5,170.8 L163.8,167.1 L171.3,163.3 L173.2,157.7 L171.3,152.1 L170.0,149.0 L169.4,147.0 L172.0,145.0 L178.8,143.2 L183.0,142.5 L188.2,141.4 L195.7,140.4 L199.4,141.4 L205.0,144.2 L209.0,143.5 L214.4,145.1 L221.9,147.0 L226.0,145.0 L229.4,143.2 L235.0,139.2 L241.0,136.5 L248.6,127.8 L258.1,125.9 L264.0,126.0 L269.5,126.8 L277.1,131.6 L281.0,141.0 L283.0,147.7 L289.2,154.0 L295.6,157.2 L303.5,160.4 L311.4,166.7 L319.4,171.5 L325.7,174.7 L335.2,177.8 L340.0,180.2 L346.0,183.0 L354.0,185.5 M354.0,172.0 L346.0,165.0 L338.0,158.0 L331.0,150.0 L325.0,144.0 L319.0,137.0 L314.0,130.0 L311.0,123.0 L309.5,117.0 L309.1,112.0 L312.0,108.5 L318.7,106.3 L324.0,104.5 L328.2,104.7 L334.5,107.8 L337.7,114.2 L342.5,117.4 L347.2,123.7 L354.0,127.5 M265.4,147.7 L268.6,149.3 L269.4,155.6 L267.8,162.0 L265.4,168.3 L263.8,173.1 L259.0,169.9 L255.9,165.1 L254.3,158.8 L255.9,155.6 L260.6,152.4 L263.8,149.3 L265.4,147.7 M247.1,176.4 L252.7,174.6 L260.2,176.4 L266.8,174.6 L271.5,178.3 L273.3,185.8 L271.5,197.1 L267.7,204.5 L262.1,208.3 L252.7,208.3 L250.9,198.9 L249.0,189.6 L247.1,180.2 L247.1,176.4 M160.1,198.9 L165.7,196.1 L171.3,194.2 L176.0,197.1 L173.2,201.7 L168.5,204.5 L163.8,201.7 L160.1,198.9 M181.6,192.4 L186.3,192.4 L189.1,194.2 L186.3,195.2 L181.6,193.3 L181.6,192.4 M142.3,208.3 L145.1,206.4 L147.9,208.3 L146.0,212.0 L143.2,211.1 L142.3,208.3 M283.0,152.0 L285.0,151.5 L285.5,153.0 L283.5,153.3 L283.0,152.0 M341.0,113.0 L343.0,116.0 L345.0,120.0 L343.0,121.0 L341.0,117.0 M346.0,119.0 L349.0,123.0 L351.0,127.0 L349.0,127.0 L346.0,122.0 M200.3,1.7 L205.0,5.4 L212.5,3.5 L208.8,0.7 L200.3,1.7 M177.0,17.8 L182.0,17.2 L187.5,18.6 L184.0,20.6 L178.0,20.2 L177.0,17.8 M217.0,97.5 L220.0,95.0 L224.0,94.4 L228.0,95.5 L225.0,97.2 L219.0,98.0 L217.0,97.5 M259.0,75.5 L263.0,74.6 L268.0,76.0 L266.0,77.8 L261.0,77.2 L259.0,75.5 M283.7,104.0 L285.5,103.9 L288.5,108.0 L287.0,110.2 L284.5,108.0 L283.7,104.0 M264.0,104.0 L266.0,103.5 L267.5,108.0 L266.0,110.0 L264.5,107.0 L264.0,104.0" stroke="#111" stroke-width="0.85"/>
</g></defs>
<rect width="630" height="828" fill="#fff"/>
<text x="21.73" y="23.50" textLength="75.26" lengthAdjust="spacingAndGlyphs" class="tt">IFS - Probas</text><text x="101.90" y="23.50" textLength="31.96" lengthAdjust="spacingAndGlyphs" class="tt">T850</text><text x="142.20" y="23.50" textLength="83.98" lengthAdjust="spacingAndGlyphs" class="tt">standardized</text><text x="230.30" y="23.50" textLength="22.85" lengthAdjust="spacingAndGlyphs" class="tt">ano</text><text x="257.42" y="23.50" textLength="11.58" lengthAdjust="spacingAndGlyphs" class="tt">&gt;</text><text x="273.20" y="23.50" textLength="28.71" lengthAdjust="spacingAndGlyphs" class="tt">than</text><text x="306.00" y="23.50" textLength="6.95" lengthAdjust="spacingAndGlyphs" class="tt">1</text><text x="319.00" y="23.50" textLength="10.76" lengthAdjust="spacingAndGlyphs" class="tt">σ,</text><text x="331.94" y="23.50" textLength="27.43" lengthAdjust="spacingAndGlyphs" class="tt">Init:</text><text x="362.63" y="23.50" textLength="64.18" lengthAdjust="spacingAndGlyphs" class="tt">20251107</text><text x="430.90" y="23.50" textLength="22.17" lengthAdjust="spacingAndGlyphs" class="tt">12z</text><text x="457.43" y="23.50" textLength="5.28" lengthAdjust="spacingAndGlyphs" class="tt">-</text><text x="467.50" y="23.50" textLength="35.89" lengthAdjust="spacingAndGlyphs" class="tt">Valid:</text><text x="506.72" y="23.50" textLength="84.15" lengthAdjust="spacingAndGlyphs" class="tt">20251113:12</text><text x="596.70" y="23.50" textLength="15.42" lengthAdjust="spacingAndGlyphs" class="tt">TU</text>
<rect x="158.50" y="35.90" width="35.27" height="7.4" fill="#FFFF00"/>
<rect x="193.72" y="35.90" width="35.27" height="7.4" fill="#FFDA00"/>
<rect x="228.94" y="35.90" width="35.27" height="7.4" fill="#FFB300"/>
<rect x="264.17" y="35.90" width="35.27" height="7.4" fill="#FF8C00"/>
<rect x="299.39" y="35.90" width="35.27" height="7.4" fill="#FF6600"/>
<rect x="334.61" y="35.90" width="35.27" height="7.4" fill="#FF1A00"/>
<rect x="369.83" y="35.90" width="35.27" height="7.4" fill="#DA0000"/>
<rect x="405.06" y="35.90" width="35.27" height="7.4" fill="#9A0000"/>
<rect x="440.28" y="35.90" width="35.27" height="7.4" fill="#6B0000"/>
<line x1="193.72" y1="35.90" x2="193.72" y2="43.30" stroke="#000" stroke-width="0.8"/>
<line x1="228.94" y1="35.90" x2="228.94" y2="43.30" stroke="#000" stroke-width="0.8"/>
<line x1="264.17" y1="35.90" x2="264.17" y2="43.30" stroke="#000" stroke-width="0.8"/>
<line x1="299.39" y1="35.90" x2="299.39" y2="43.30" stroke="#000" stroke-width="0.8"/>
<line x1="334.61" y1="35.90" x2="334.61" y2="43.30" stroke="#000" stroke-width="0.8"/>
<line x1="369.83" y1="35.90" x2="369.83" y2="43.30" stroke="#000" stroke-width="0.8"/>
<line x1="405.06" y1="35.90" x2="405.06" y2="43.30" stroke="#000" stroke-width="0.8"/>
<line x1="440.28" y1="35.90" x2="440.28" y2="43.30" stroke="#000" stroke-width="0.8"/>
<rect x="158.50" y="35.90" width="317.00" height="7.4" fill="none" stroke="#000" stroke-width="1"/>
<text x="152.45" y="31.40" textLength="12.1" lengthAdjust="spacingAndGlyphs" class="lb">10</text>
<text x="187.67" y="31.40" textLength="12.1" lengthAdjust="spacingAndGlyphs" class="lb">25</text>
<text x="222.89" y="31.40" textLength="12.1" lengthAdjust="spacingAndGlyphs" class="lb">40</text>
<text x="258.12" y="31.40" textLength="12.1" lengthAdjust="spacingAndGlyphs" class="lb">50</text>
<text x="293.34" y="31.40" textLength="12.1" lengthAdjust="spacingAndGlyphs" class="lb">60</text>
<text x="328.56" y="31.40" textLength="12.1" lengthAdjust="spacingAndGlyphs" class="lb">70</text>
<text x="363.78" y="31.40" textLength="12.1" lengthAdjust="spacingAndGlyphs" class="lb">80</text>
<text x="399.01" y="31.40" textLength="12.1" lengthAdjust="spacingAndGlyphs" class="lb">90</text>
<text x="434.23" y="31.40" textLength="12.1" lengthAdjust="spacingAndGlyphs" class="lb">95</text>
<text x="466.35" y="31.40" textLength="18.3" lengthAdjust="spacingAndGlyphs" class="lb">100</text>
<g transform="translate(140,48.90)">
<clipPath id="clip0"><rect x="1" y="0.5" width="352" height="228"/></clipPath>
<g clip-path="url(#clip0)"><rect x="0" y="0" width="353" height="229" fill="#fff"/><polygon points="0.0,-1.0 353.0,-1.0 353.0,230.0 0.0,230.0" fill="#6B0000"/>
<polygon points="353.0,-1.0 353.0,6.7 346.4,7.6 338.9,8.5 331.4,3.8 323.9,2.9 312.7,3.8 305.2,5.7 297.7,7.6 290.2,8.5 282.7,5.7 271.5,4.8 264.0,5.7 256.5,8.5 250.0,6.4 245.0,7.5 234.1,8.0 224.6,11.2 216.7,17.6 202.4,22.3 189.7,31.0 178.0,36.0 166.0,40.0 155.0,44.0 145.0,47.0 136.0,50.0 126.0,53.0 117.0,56.0 120.0,70.1 105.0,80.1 105.6,90.1 102.8,100.1 95.0,108.0 85.6,120.1 82.0,130.0 82.0,140.0 84.0,150.0 86.7,160.1 84.0,170.0 80.0,180.1 74.0,190.0 68.9,200.1 68.0,210.0 67.7,219.1 67.0,230.0 0.0,230.0 0.0,-1.0" fill="#9A0000"/>
<polygon points="239.0,-1.0 232.5,3.3 223.0,6.4 213.5,9.6 200.8,12.8 189.7,16.0 178.6,22.3 165.0,30.0 150.0,37.0 135.0,44.0 122.0,50.0 112.0,57.0 106.7,63.3 102.2,70.1 99.0,80.1 92.2,90.1 80.0,100.1 75.0,110.0 70.0,120.1 65.4,130.1 67.7,140.1 68.0,150.1 64.0,155.0 59.9,160.1 59.9,170.1 72.2,180.1 66.0,190.0 61.1,200.1 61.0,210.0 61.0,219.1 62.0,230.0 0.0,230.0 0.0,-1.0" fill="#DA0000"/>
<polygon points="182.0,-1.0 177.0,4.9 169.0,11.2 160.0,18.0 152.0,24.0 142.0,30.0 122.0,40.0 101.4,47.6 95.0,55.0 88.7,63.2 91.1,70.1 90.0,80.1 85.6,90.1 75.0,96.0 66.7,100.1 63.0,108.7 61.0,116.7 62.2,120.1 59.9,130.1 63.2,140.1 63.2,150.1 54.0,155.0 45.4,160.1 47.7,170.1 53.2,180.1 53.3,190.0 53.2,200.1 52.5,210.0 52.1,219.1 53.0,230.0 0.0,230.0 0.0,-1.0" fill="#FF1A00"/>
<polygon points="161.0,-1.0 160.0,1.4 156.2,7.7 149.8,14.1 143.5,19.1 138.4,24.1 128.0,30.0 110.0,40.0 91.9,47.6 84.0,56.0 78.3,63.2 78.9,70.1 72.0,76.0 68.9,80.1 67.8,90.1 60.0,97.0 57.8,100.1 55.0,108.7 52.4,116.7 52.2,120.1 53.2,130.1 56.6,140.1 55.0,145.0 54.3,150.1 46.0,155.0 38.8,160.1 37.7,170.1 39.9,180.1 41.0,190.0 42.1,200.1 43.0,210.0 43.2,219.1 45.0,230.0 0.0,230.0 0.0,-1.0" fill="#FF6600"/>
<polygon points="152.0,-1.0 148.6,6.5 143.5,12.8 137.1,17.9 130.8,21.7 125.7,24.1 114.5,30.1 100.0,40.0 88.1,47.6 78.0,56.0 70.4,63.2 70.0,70.1 63.3,80.1 58.9,90.1 53.3,100.1 49.0,110.0 45.6,120.1 41.0,130.1 45.4,140.1 50.0,145.0 51.6,150.1 44.0,155.0 35.4,160.1 33.2,170.1 36.6,180.1 35.0,190.0 34.3,200.1 36.0,210.0 38.8,219.1 40.0,230.0 0.0,230.0 0.0,-1.0" fill="#FF8C00"/>
<polygon points="134.0,-1.0 132.0,5.2 129.0,10.0 123.2,15.3 118.1,19.1 111.7,24.1 105.0,30.1 94.0,38.0 86.0,44.0 81.4,47.6 72.0,56.0 65.6,63.2 64.4,70.1 57.8,80.1 50.0,90.0 44.4,100.1 42.0,110.0 40.0,120.1 32.1,130.1 32.1,140.1 40.0,145.0 48.2,150.1 40.0,155.0 33.2,160.1 29.9,170.1 32.1,180.1 31.0,190.0 29.9,200.1 31.0,210.0 33.2,219.1 35.0,230.0 0.0,230.0 0.0,-1.0" fill="#FFB300"/>
<polygon points="131.0,-1.0 128.3,3.9 122.0,7.7 113.0,10.3 102.0,12.8 90.0,16.6 82.0,19.0 81.0,25.0 81.4,30.1 79.0,40.0 75.7,47.6 68.0,55.0 60.9,63.2 55.0,70.0 51.1,80.1 44.0,90.0 38.9,100.1 36.0,110.0 33.3,120.1 25.4,130.1 23.2,140.1 30.0,145.0 44.3,150.1 38.0,155.0 29.9,160.1 26.6,170.1 27.7,180.1 26.0,190.0 25.4,200.1 26.0,210.0 26.6,219.1 28.0,230.0 0.0,230.0 0.0,-1.0" fill="#FFDA00"/>
<polygon points="62.0,-1.0 61.0,10.0 62.4,30.1 58.0,40.0 53.8,47.6 50.0,55.0 49.8,63.2 43.0,69.0 38.0,77.0 36.7,80.1 33.0,90.0 28.9,100.1 28.0,110.0 27.8,120.1 17.7,130.1 14.3,140.1 14.0,150.1 25.4,160.1 23.2,170.1 22.1,180.1 18.0,190.0 15.4,200.1 12.0,210.0 8.8,219.1 7.0,230.0 0.0,230.0 0.0,-1.0" fill="#FFFF00"/>
<polygon points="0.0,-1.0 47.6,-1.0 45.2,4.9 42.9,9.6 39.7,12.8 31.7,14.4 25.4,16.0 23.0,20.7 21.4,25.5 20.6,30.3 25.4,32.6 31.0,34.2 34.1,38.2 33.3,44.5 34.1,50.9 33.3,55.7 31.0,59.6 29.0,63.0 27.8,67.5 22.2,70.6 12.7,67.5 7.9,70.6 5.6,77.0 3.2,84.9 2.4,87.3 0.0,87.5" fill="#FFFFFF"/>
<polygon points="0.0,92.0 7.5,92.0 15.0,91.1 18.7,93.0 19.7,100.4 18.7,107.9 16.9,115.4 13.1,121.1 8.4,125.7 4.7,130.4 1.9,134.2 0.0,135.0" fill="#FFFFFF"/>
<polygon points="0.0,157.0 7.5,159.6 9.4,167.1 7.5,174.6 5.6,180.2 11.2,184.0 13.1,187.7 11.2,191.4 5.6,194.2 0.0,195.5" fill="#FFFFFF"/>
<polygon points="39.0,183.0 48.0,180.0 56.0,183.0 55.0,191.0 45.0,193.0 38.0,189.0" fill="#FFB300"/>
<polygon points="42.0,184.0 48.0,182.0 54.0,184.0 52.0,190.0 45.0,191.0 41.0,188.0" fill="#FFDA00"/>
<polygon points="22.0,146.0 30.0,144.0 38.0,147.0 37.0,153.0 28.0,155.0 22.0,152.0" fill="#FFFF00"/>
<polygon points="115.0,150.0 125.0,147.0 135.0,149.0 137.0,153.0 128.0,156.0 117.0,155.0" fill="#DA0000"/>
<polygon points="119.0,151.0 127.0,149.0 133.0,151.0 127.0,154.0 120.0,153.0" fill="#FF1A00"/>
<polygon points="325.8,15.0 330.0,13.2 334.2,15.5 332.0,19.8 327.0,19.0" fill="#9A0000"/>
<polygon points="353.0,81.0 343.6,79.7 332.4,79.7 315.7,82.5 301.7,83.9 287.7,86.7 273.8,85.3 259.8,86.7 248.6,89.5 240.0,92.0 232.0,94.0 226.0,97.0 221.0,102.0 216.0,107.0 208.0,111.0 198.0,112.0 187.0,112.0 177.0,115.0 169.0,123.0 166.0,138.0 171.0,145.0 183.0,144.0 196.0,145.0 205.0,150.0 225.0,155.0 240.0,152.0 245.0,150.0 250.0,160.0 258.0,170.0 265.0,180.0 268.0,196.0 268.0,210.0 271.5,230.0 353.0,230.0" fill="#9A0000"/>
<polygon points="353.0,84.0 330.0,83.5 315.0,86.0 300.0,87.5 288.0,89.5 274.0,88.5 260.0,89.5 250.0,91.0 240.0,93.0 233.0,95.5 228.0,99.0 224.0,104.0 220.0,110.0 213.0,115.0 205.0,118.0 196.0,121.0 192.0,130.0 196.0,141.0 208.0,146.0 225.0,148.0 250.0,148.0 265.0,147.0 271.7,146.0 273.0,160.0 275.0,170.0 276.5,196.0 280.0,210.0 285.0,230.0 353.0,230.0" fill="#DA0000"/>
<polygon points="353.0,87.0 330.0,87.0 315.0,89.0 300.0,90.5 288.0,92.0 274.0,91.0 260.0,91.5 250.0,92.5 242.0,94.0 235.0,96.5 230.0,100.0 226.0,106.0 222.0,112.0 216.0,118.0 208.0,122.0 200.0,126.0 198.0,133.0 204.0,140.0 212.0,142.0 225.0,141.0 235.0,141.0 255.0,143.5 276.5,146.0 279.7,170.0 286.0,196.0 292.0,210.0 298.0,230.0 353.0,230.0" fill="#FF1A00"/>
<polygon points="353.0,89.5 330.0,89.5 315.0,91.0 300.0,92.0 288.0,93.0 274.0,92.5 262.0,93.0 252.0,94.0 244.0,95.5 237.0,98.0 232.0,102.0 228.0,107.0 225.0,113.0 220.0,119.0 212.0,124.0 206.0,130.0 210.0,135.0 218.0,137.0 235.0,138.5 252.0,140.0 270.0,143.0 284.4,146.0 294.0,170.0 303.5,196.0 306.0,210.0 309.0,230.0 353.0,230.0" fill="#FF6600"/>
<polygon points="353.0,91.0 330.0,91.0 315.0,92.0 300.0,93.0 288.0,94.0 274.0,93.5 263.0,94.0 254.0,95.0 246.0,96.5 239.0,99.0 234.0,103.0 230.0,108.0 227.0,114.0 224.0,120.0 220.0,126.0 222.0,133.0 240.0,136.0 258.0,138.0 267.6,139.5 287.6,146.0 298.7,170.0 308.3,196.0 311.0,210.0 314.0,230.0 353.0,230.0" fill="#FF8C00"/>
<polygon points="353.0,92.0 330.0,92.0 315.0,93.0 300.0,94.0 288.0,95.0 274.0,94.5 264.0,95.0 256.0,96.0 248.0,97.5 241.0,100.0 236.0,104.0 232.0,109.0 229.0,115.0 227.0,121.0 227.0,128.0 243.0,132.5 262.0,136.0 275.0,139.0 290.8,146.0 303.5,170.0 314.6,196.0 318.0,210.0 322.0,230.0 353.0,230.0" fill="#FFB300"/>
<polygon points="353.0,93.5 330.0,93.5 315.0,94.0 300.0,95.0 288.0,96.0 275.0,95.5 265.0,96.0 258.0,97.5 250.0,98.5 243.0,100.0 238.0,103.0 234.0,107.0 231.0,112.0 230.0,118.0 231.0,124.0 249.0,130.0 268.0,133.5 283.0,139.0 294.0,146.0 314.6,170.0 325.7,196.0 332.0,210.0 339.0,230.0 353.0,230.0" fill="#FFDA00"/>
<polygon points="353.0,95.0 330.0,95.0 315.0,96.0 300.0,96.5 290.0,97.0 279.0,95.5 270.0,94.5 260.0,94.5 252.0,96.0 246.0,98.0 242.0,101.0 239.0,105.0 236.0,109.0 233.0,114.0 233.0,119.0 239.0,121.0 258.0,124.5 277.0,126.5 296.0,127.0 304.0,131.0 308.0,139.0 311.4,146.0 328.9,170.0 336.8,196.0 345.0,210.0 350.0,230.0 353.0,230.0" fill="#FFFF00"/>
<polygon points="244.0,112.0 246.0,105.0 250.0,101.0 257.0,97.5 265.0,99.0 273.0,102.0 280.0,104.0 287.0,106.0 293.0,108.0 297.0,110.0 303.0,110.0 308.0,104.0 312.0,99.0 318.0,98.0 325.0,96.5 333.0,96.0 340.0,98.0 346.0,101.0 353.0,103.0 353.0,160.0 346.0,156.0 340.0,150.0 338.0,145.0 330.5,139.2 322.9,133.5 315.2,127.8 311.4,120.1 309.5,119.2 300.0,120.1 288.6,121.1 277.1,122.1 269.5,121.1 258.1,119.2 248.6,116.3 243.0,113.0" fill="#FFFFFF"/>
<polygon points="169.4,136.0 173.2,124.8 180.7,117.3 190.0,114.5 197.5,115.4 205.0,119.2 212.0,123.0 213.0,132.0 205.0,137.0 188.2,138.8 173.2,139.8" fill="#DA0000"/>
<polygon points="173.2,136.0 177.0,126.7 182.6,121.1 190.0,117.3 197.5,118.2 203.2,122.9 207.0,128.0 204.0,134.0 191.0,136.0 180.0,137.0" fill="#FF1A00"/>
<polygon points="177.0,134.2 180.7,126.7 186.3,121.1 191.9,119.2 197.5,121.1 201.3,125.7 199.4,132.3 191.9,136.0 182.6,136.0" fill="#FF6600"/>
<polygon points="182.6,130.4 186.3,122.9 191.9,121.1 195.7,124.8 195.7,130.4 190.0,133.2" fill="#FFB300"/>
<polygon points="186.3,128.5 189.1,122.9 192.9,122.9 193.8,127.6 190.0,130.4" fill="#FFFF00"/><use href="#LN"/>
<text x="182.6" y="205.7" textLength="166" lengthAdjust="spacingAndGlyphs" class="sm">from grib files provided by ECMWF</text>
<text x="240.4" y="224.8" textLength="107.4" lengthAdjust="spacingAndGlyphs" class="sm">©2025 sb@irizone.net</text></g>
</g>
<rect x="141.0" y="49.20" width="351.7" height="228.0" fill="none" stroke="#000" stroke-width="1.0"/>
<text x="15.83" y="291.90" textLength="75.26" lengthAdjust="spacingAndGlyphs" class="tt">IFS - Probas</text><text x="96.00" y="291.90" textLength="31.96" lengthAdjust="spacingAndGlyphs" class="tt">T850</text><text x="136.30" y="291.90" textLength="83.98" lengthAdjust="spacingAndGlyphs" class="tt">standardized</text><text x="224.40" y="291.90" textLength="22.85" lengthAdjust="spacingAndGlyphs" class="tt">ano</text><text x="251.52" y="291.90" textLength="11.58" lengthAdjust="spacingAndGlyphs" class="tt">&gt;</text><text x="267.30" y="291.90" textLength="28.71" lengthAdjust="spacingAndGlyphs" class="tt">than</text><text x="299.32" y="291.90" textLength="20.54" lengthAdjust="spacingAndGlyphs" class="tt">1.5</text><text x="325.10" y="291.90" textLength="10.76" lengthAdjust="spacingAndGlyphs" class="tt">σ,</text><text x="338.04" y="291.90" textLength="27.43" lengthAdjust="spacingAndGlyphs" class="tt">Init:</text><text x="368.73" y="291.90" textLength="64.18" lengthAdjust="spacingAndGlyphs" class="tt">20251107</text><text x="437.00" y="291.90" textLength="22.17" lengthAdjust="spacingAndGlyphs" class="tt">12z</text><text x="463.53" y="291.90" textLength="5.28" lengthAdjust="spacingAndGlyphs" class="tt">-</text><text x="473.60" y="291.90" textLength="35.89" lengthAdjust="spacingAndGlyphs" class="tt">Valid:</text><text x="512.82" y="291.90" textLength="84.15" lengthAdjust="spacingAndGlyphs" class="tt">20251113:12</text><text x="602.80" y="291.90" textLength="15.42" lengthAdjust="spacingAndGlyphs" class="tt">TU</text>
<rect x="158.50" y="304.40" width="35.27" height="7.4" fill="#FFFF00"/>
<rect x="193.72" y="304.40" width="35.27" height="7.4" fill="#FFDA00"/>
<rect x="228.94" y="304.40" width="35.27" height="7.4" fill="#FFB300"/>
<rect x="264.17" y="304.40" width="35.27" height="7.4" fill="#FF8C00"/>
<rect x="299.39" y="304.40" width="35.27" height="7.4" fill="#FF6600"/>
<rect x="334.61" y="304.40" width="35.27" height="7.4" fill="#FF1A00"/>
<rect x="369.83" y="304.40" width="35.27" height="7.4" fill="#DA0000"/>
<rect x="405.06" y="304.40" width="35.27" height="7.4" fill="#9A0000"/>
<rect x="440.28" y="304.40" width="35.27" height="7.4" fill="#6B0000"/>
<line x1="193.72" y1="304.40" x2="193.72" y2="311.80" stroke="#000" stroke-width="0.8"/>
<line x1="228.94" y1="304.40" x2="228.94" y2="311.80" stroke="#000" stroke-width="0.8"/>
<line x1="264.17" y1="304.40" x2="264.17" y2="311.80" stroke="#000" stroke-width="0.8"/>
<line x1="299.39" y1="304.40" x2="299.39" y2="311.80" stroke="#000" stroke-width="0.8"/>
<line x1="334.61" y1="304.40" x2="334.61" y2="311.80" stroke="#000" stroke-width="0.8"/>
<line x1="369.83" y1="304.40" x2="369.83" y2="311.80" stroke="#000" stroke-width="0.8"/>
<line x1="405.06" y1="304.40" x2="405.06" y2="311.80" stroke="#000" stroke-width="0.8"/>
<line x1="440.28" y1="304.40" x2="440.28" y2="311.80" stroke="#000" stroke-width="0.8"/>
<rect x="158.50" y="304.40" width="317.00" height="7.4" fill="none" stroke="#000" stroke-width="1"/>
<text x="152.45" y="299.90" textLength="12.1" lengthAdjust="spacingAndGlyphs" class="lb">10</text>
<text x="187.67" y="299.90" textLength="12.1" lengthAdjust="spacingAndGlyphs" class="lb">25</text>
<text x="222.89" y="299.90" textLength="12.1" lengthAdjust="spacingAndGlyphs" class="lb">40</text>
<text x="258.12" y="299.90" textLength="12.1" lengthAdjust="spacingAndGlyphs" class="lb">50</text>
<text x="293.34" y="299.90" textLength="12.1" lengthAdjust="spacingAndGlyphs" class="lb">60</text>
<text x="328.56" y="299.90" textLength="12.1" lengthAdjust="spacingAndGlyphs" class="lb">70</text>
<text x="363.78" y="299.90" textLength="12.1" lengthAdjust="spacingAndGlyphs" class="lb">80</text>
<text x="399.01" y="299.90" textLength="12.1" lengthAdjust="spacingAndGlyphs" class="lb">90</text>
<text x="434.23" y="299.90" textLength="12.1" lengthAdjust="spacingAndGlyphs" class="lb">95</text>
<text x="466.35" y="299.90" textLength="18.3" lengthAdjust="spacingAndGlyphs" class="lb">100</text>
<g transform="translate(140,317.50)">
<clipPath id="clip1"><rect x="1" y="0.5" width="352" height="228"/></clipPath>
<g clip-path="url(#clip1)"><rect x="0" y="0" width="353" height="229" fill="#fff"/><polygon points="0.0,-1.0 353.0,-1.0 353.0,230.0 0.0,230.0" fill="#9A0000"/>
<polygon points="235.0,-1.0 235.0,44.0 221.9,52.0 210.6,55.7 201.3,55.7 191.9,53.8 182.6,61.3 161.0,69.5 150.0,80.0 141.2,89.5 128.0,100.0 114.8,109.5 104.0,120.0 96.0,129.5 90.0,138.1 85.0,149.2 86.0,162.0 84.0,169.5 86.4,189.5 80.0,197.0 73.1,209.5 70.0,215.1 68.6,230.0 0.0,230.0 0.0,-1.0" fill="#DA0000"/>
<polygon points="235.0,-1.0 235.0,22.0 220.0,26.0 205.0,28.0 200.5,29.5 190.0,40.0 171.4,49.5 162.0,60.0 153.3,69.5 145.0,80.0 135.5,89.5 122.0,100.0 109.0,109.5 92.0,120.0 77.1,129.5 75.0,138.0 68.0,149.5 66.0,160.0 65.0,169.5 70.0,180.0 76.9,189.5 70.0,200.0 66.4,209.5 63.0,220.0 62.0,230.0 0.0,230.0 0.0,-1.0" fill="#FF1A00"/>
<polygon points="272.0,-1.0 270.0,2.4 260.0,3.8 254.3,5.2 247.1,8.1 237.1,12.4 227.1,16.6 215.7,19.5 201.4,21.0 192.0,25.0 186.2,29.5 178.6,42.1 160.0,49.5 150.0,60.0 138.1,69.5 128.0,80.0 119.3,89.5 100.0,101.0 81.7,109.5 74.0,118.0 71.4,129.5 66.0,140.0 61.9,149.5 57.0,160.0 53.8,169.5 58.0,180.0 63.3,189.5 55.0,200.0 53.8,209.5 53.0,220.0 53.0,230.0 0.0,230.0 0.0,-1.0" fill="#FF6600"/>
<polygon points="235.0,-1.0 228.0,4.0 218.0,9.5 205.0,15.0 195.0,20.0 188.0,25.0 181.4,29.5 170.0,38.0 160.0,44.0 148.6,49.5 135.0,60.0 122.0,69.5 112.0,80.0 103.3,89.5 88.0,100.0 75.0,109.5 70.0,120.0 66.7,129.5 62.0,140.0 56.2,149.5 52.0,160.0 48.1,169.5 52.0,180.0 60.5,189.5 50.0,200.0 46.2,209.5 47.0,220.0 47.0,230.0 0.0,230.0 0.0,-1.0" fill="#FF8C00"/>
<polygon points="193.0,-1.0 190.0,5.0 187.6,9.5 182.0,18.0 173.8,29.5 150.0,40.0 122.0,49.5 115.0,60.0 108.8,69.5 99.0,80.0 90.0,89.5 78.0,100.0 69.3,109.5 64.0,120.0 61.0,129.5 57.0,140.0 52.4,149.5 46.0,160.0 41.4,169.5 48.0,180.0 56.7,189.5 45.0,200.0 39.5,209.5 41.0,220.0 42.0,230.0 0.0,230.0 0.0,-1.0" fill="#FFB300"/>
<polygon points="181.0,-1.0 178.3,9.5 168.0,20.0 155.7,29.5 135.0,40.0 113.6,49.5 106.0,60.0 99.3,69.5 90.0,80.0 81.4,89.5 72.0,100.0 63.6,109.5 59.0,120.0 56.2,129.5 52.0,140.0 47.6,149.5 42.0,160.0 38.6,169.5 45.0,180.0 54.8,189.5 44.0,200.0 37.6,209.5 38.0,220.0 38.5,230.0 0.0,230.0 0.0,-1.0" fill="#FFDA00"/>
<polygon points="168.0,-1.0 166.0,9.5 155.0,20.0 141.5,29.5 115.0,40.0 94.5,49.5 92.0,60.0 90.7,69.5 80.0,80.0 71.9,89.5 62.0,100.0 52.1,109.5 47.0,120.0 43.8,129.5 43.0,140.0 44.8,149.5 38.0,160.0 33.8,169.5 38.0,180.0 48.0,186.0 50.0,189.5 45.0,194.0 36.0,200.0 26.2,209.5 27.0,220.0 28.6,230.0 0.0,230.0 0.0,-1.0" fill="#FFFF00"/>
<polygon points="0.0,-1.0 150.0,-1.0 145.0,3.0 141.4,5.2 135.7,7.0 128.0,11.0 122.9,18.1 115.0,22.0 108.0,26.0 98.6,29.2 90.0,34.0 82.9,42.1 76.0,48.0 71.4,53.2 69.3,59.4 71.0,63.0 75.7,66.1 72.0,71.0 67.1,77.2 56.0,86.3 52.0,93.0 47.0,101.2 37.1,114.1 31.4,125.2 24.3,138.1 28.0,142.0 36.0,146.0 40.0,149.2 32.0,156.0 29.0,162.1 25.7,173.2 24.3,186.1 18.6,197.2 10.0,210.1 10.0,215.1 8.6,225.1 8.0,230.0 0.0,230.0" fill="#FFFFFF"/>
<polygon points="150.0,86.0 160.0,84.0 172.0,85.0 185.0,88.0 184.0,94.0 175.0,97.0 165.0,100.0 162.0,115.0 163.0,128.0 160.0,140.0 152.0,145.0 135.0,145.0 122.0,140.0 119.0,128.0 122.0,112.0 126.0,104.0 135.0,98.0 148.0,94.0" fill="#6B0000"/>
<polygon points="95.0,160.0 110.0,161.0 128.0,163.0 150.0,160.0 165.0,150.0 180.0,148.0 200.0,150.0 220.0,151.0 236.0,152.0 239.6,160.9 247.1,189.0 262.1,217.0 265.0,230.0 74.3,230.0 75.7,215.0 80.0,210.0 82.9,197.0 85.7,186.0 88.0,175.0 90.0,165.0" fill="#6B0000"/>
<polygon points="234.0,-1.0 353.0,-1.0 353.0,76.0 262.0,76.0 255.0,66.0 248.0,56.0 242.0,46.0 237.0,34.0 234.0,20.0" fill="#FF1A00"/>
<polygon points="234.0,-1.0 264.0,-1.0 262.1,5.1 256.5,8.9 245.2,9.8 234.0,10.7" fill="#FF6600"/>
<polygon points="226.0,18.0 234.0,15.0 245.0,13.0 258.0,12.0 271.0,12.0 281.0,13.0 290.0,15.0 301.0,18.0 312.0,22.0 322.0,27.0 320.2,33.2 308.9,35.1 295.8,34.2 286.4,33.2 277.1,35.1 267.7,37.0 256.5,38.8 245.2,40.0 236.0,42.0 228.0,38.0" fill="#DA0000"/>
<polygon points="286.4,12.6 295.8,10.7 305.2,12.6 308.9,17.3 301.4,19.2 290.2,18.2" fill="#DA0000"/>
<polygon points="303.3,-1.0 353.0,-1.0 353.0,31.3 342.6,29.5 335.1,27.6 323.9,25.7 314.5,20.1 308.9,10.7 305.2,5.1" fill="#FF8C00"/>
<polygon points="320.0,3.0 353.0,3.0 353.0,25.0 335.0,24.0 322.0,18.0 318.0,8.0" fill="#FFB300"/>
<polygon points="258.3,37.0 271.5,34.2 286.4,34.2 299.6,35.1 308.9,37.0 312.7,44.5 308.9,50.1 295.8,51.9 280.8,51.9 267.7,50.1 258.3,48.2 254.6,42.6" fill="#FF6600"/>
<polygon points="262.1,38.8 275.2,36.0 290.2,37.0 299.6,39.8 301.4,45.4 290.2,47.3 277.1,49.1 264.0,47.3" fill="#FF8C00"/>
<polygon points="308.9,33.2 322.0,31.3 335.1,29.5 346.4,30.4 353.0,31.3 353.0,61.3 342.6,57.6 331.4,53.8 320.2,50.1 312.7,44.5" fill="#FF8C00"/>
<polygon points="331.4,37.0 346.4,33.2 353.0,35.1 353.0,53.8 342.6,50.1 335.1,44.5" fill="#FFB300"/>
<polygon points="346.4,38.8 353.0,37.9 353.0,46.3 347.3,45.4" fill="#FFDA00"/>
<polygon points="305.2,55.7 318.3,55.7 331.4,59.4 346.4,63.2 353.0,65.1 353.0,70.7 342.6,68.8 327.6,65.1 312.7,63.2 303.3,59.4" fill="#DA0000"/>
<polygon points="327.6,70.7 353.0,72.6 353.0,76.5 327.6,76.5" fill="#FF6600"/>
<polygon points="353.0,75.5 164.0,76.0 160.0,82.0 165.0,86.0 175.0,88.0 170.0,100.0 164.0,110.0 162.0,113.0 162.0,135.4 169.4,141.0 182.6,142.9 201.3,141.0 220.0,145.0 234.0,152.0 245.0,156.0 252.7,160.9 264.0,189.0 277.1,217.0 282.0,230.0 353.0,230.0" fill="#DA0000"/>
<polygon points="353.0,75.5 240.0,76.0 236.0,85.0 235.0,97.0 229.4,98.0 220.0,100.8 208.8,103.6 199.4,106.4 191.9,109.2 182.6,109.2 173.2,110.2 165.7,114.8 165.7,133.6 173.2,138.2 191.9,140.1 210.6,139.2 229.4,140.1 234.0,148.5 245.2,146.7 256.5,146.7 264.0,152.5 275.2,160.9 280.8,189.0 290.2,217.0 293.0,230.0 353.0,230.0" fill="#FF1A00"/>
<polygon points="353.0,84.9 327.6,83.0 308.9,81.1 290.2,79.2 271.5,81.1 252.7,83.0 234.0,86.7 232.0,95.0 229.4,103.6 218.1,105.5 206.9,107.3 197.5,110.2 188.2,112.0 176.9,113.0 167.6,116.7 167.6,131.7 176.9,136.4 191.9,137.3 210.6,136.4 229.4,135.4 234.0,142.9 245.2,141.0 258.3,140.1 269.6,142.9 275.2,152.5 280.8,160.9 286.4,189.0 295.8,217.0 298.0,230.0 353.0,230.0" fill="#FF6600"/>
<polygon points="353.0,88.5 337.0,87.0 318.3,86.5 305.2,84.5 290.2,83.0 271.5,83.5 252.7,86.5 234.0,89.0 231.0,97.0 227.0,106.0 216.0,108.5 206.0,110.0 197.0,112.3 188.0,114.0 177.5,115.0 169.0,118.5 169.0,130.7 177.5,135.0 191.9,135.9 210.6,134.5 229.4,133.8 234.0,141.0 247.0,139.2 260.0,137.8 270.5,140.0 278.0,147.0 282.0,155.0 286.4,160.9 292.1,189.0 299.6,217.0 302.0,230.0 353.0,230.0" fill="#FF8C00"/>
<polygon points="353.0,90.5 337.0,88.6 318.3,88.6 305.2,86.7 290.2,84.9 271.5,84.9 252.7,88.6 234.0,90.5 230.0,99.0 225.0,108.0 214.0,110.0 204.0,112.0 196.0,114.0 188.0,115.0 178.0,116.0 170.0,119.5 170.0,130.0 178.0,134.3 191.9,135.0 205.0,133.0 220.0,132.0 234.0,139.2 249.0,137.3 262.1,135.4 271.5,137.3 280.8,142.9 284.6,152.5 292.1,160.9 297.7,189.0 305.2,217.0 307.0,230.0 353.0,230.0" fill="#FFB300"/>
<polygon points="353.0,93.5 330.0,91.0 315.0,90.5 303.0,89.0 290.2,88.0 271.5,89.0 252.7,91.5 234.0,92.5 229.0,101.0 223.0,109.5 212.0,111.5 202.0,113.5 193.0,115.0 184.0,116.0 175.0,118.0 170.2,120.0 170.2,130.0 178.5,134.0 191.9,134.8 204.0,132.3 217.0,131.0 234.0,137.5 249.0,135.5 262.1,133.5 273.0,135.5 283.0,141.0 289.0,148.0 293.0,155.0 301.4,160.9 305.2,189.0 308.9,217.0 310.0,230.0 353.0,230.0" fill="#FFDA00"/>
<polygon points="353.0,96.1 338.9,94.2 327.6,93.3 312.7,92.4 301.4,91.4 290.2,90.5 271.5,92.4 252.7,94.2 234.0,94.2 228.0,103.0 221.9,111.1 210.6,113.0 199.4,114.8 190.0,115.8 178.8,116.7 170.4,120.5 170.4,129.8 178.8,133.6 191.9,134.5 203.2,131.7 214.4,129.8 225.6,131.7 234.0,135.4 249.0,133.6 262.1,131.7 275.2,133.6 286.4,139.2 292.1,144.8 295.8,152.5 312.7,160.9 314.5,189.0 316.4,217.0 318.0,230.0 353.0,230.0" fill="#FFFF00"/>
<polygon points="245.0,101.7 252.7,98.0 271.5,96.1 286.4,94.2 297.7,92.4 308.9,94.2 323.9,96.1 335.1,101.7 346.4,103.6 353.0,103.6 353.0,168.4 342.6,166.5 335.1,164.6 329.5,160.9 323.9,157.1 318.3,154.3 312.0,152.0 305.2,152.5 301.4,144.8 295.8,137.3 282.7,131.7 271.5,128.0 258.3,126.1 245.2,129.8 240.0,128.0 243.0,122.0 245.0,113.0 243.0,107.0 241.0,105.0" fill="#FFFFFF"/>
<polygon points="306.1,133.6 312.7,131.7 319.2,135.4 320.2,141.0 314.5,142.9 308.0,140.1" fill="#FFFF00"/>
<polygon points="178.8,122.3 184.4,120.5 191.9,121.4 195.7,124.2 193.8,129.8 186.3,131.7 180.7,130.8 178.8,126.1" fill="#FFFFFF"/>
<polygon points="227.5,130.8 233.1,129.8 236.0,131.7 231.3,134.5 227.5,133.6" fill="#FFFFFF"/>
<polygon points="342.6,213.3 348.3,209.6 353.0,207.7 353.0,224.5 346.4,222.7 342.6,218.9" fill="#FFFFFF"/>
<polygon points="338.0,151.5 353.0,151.5 353.0,160.0 345.0,158.0" fill="#FFFFFF"/>
<polygon points="108.0,150.0 120.0,146.0 140.0,145.0 157.0,147.0 150.0,155.0 140.0,159.0 128.0,162.0 117.0,163.0 110.0,158.0" fill="#FF1A00"/>
<polygon points="113.0,151.0 125.0,148.0 140.0,148.0 150.0,150.0 143.0,155.0 130.0,158.0 117.0,159.0" fill="#FF8C00"/>
<polygon points="118.0,152.0 130.0,150.0 142.0,150.0 138.0,153.0 128.0,155.0 120.0,155.0" fill="#FFFF00"/>
<polygon points="125.0,151.5 135.0,151.0 132.0,153.0 126.0,153.0" fill="#FFFFFF"/>
<polygon points="56.0,185.5 63.7,177.7 72.0,170.2 78.7,171.2 76.8,178.7 68.4,184.3 59.0,188.0" fill="#FF8C00"/>
<polygon points="58.1,183.3 65.6,177.7 73.0,172.1 76.8,173.0 74.9,177.7 67.4,182.4 59.9,185.2" fill="#FFDA00"/>
<polygon points="38.0,185.0 44.0,183.0 52.0,184.0 48.0,188.0 40.0,189.0" fill="#FFFF00"/>
<polygon points="40.0,186.0 44.0,185.0 48.0,186.0 45.0,187.5 41.0,188.0" fill="#FFFFFF"/>
<polygon points="89.9,185.2 95.5,181.5 103.0,184.3 104.9,190.8 99.3,193.6 92.7,191.8" fill="#FF1A00"/>
<polygon points="93.7,185.5 100.0,184.8 101.5,189.5 97.0,191.0 94.0,189.5" fill="#FF8C00"/>
<polygon points="108.6,186.0 115.0,184.0 122.0,186.0 122.0,192.0 112.0,193.0" fill="#FF1A00"/>
<polygon points="111.0,187.0 116.0,186.0 120.0,188.0 118.0,191.0 113.0,190.5" fill="#FF8C00"/><use href="#LN"/>
<text x="182.6" y="205.7" textLength="166" lengthAdjust="spacingAndGlyphs" class="sm">from grib files provided by ECMWF</text>
<text x="240.4" y="224.8" textLength="107.4" lengthAdjust="spacingAndGlyphs" class="sm">©2025 sb@irizone.net</text></g>
</g>
<rect x="141.0" y="317.80" width="351.7" height="228.0" fill="none" stroke="#000" stroke-width="1.0"/>
<text x="21.93" y="560.40" textLength="75.26" lengthAdjust="spacingAndGlyphs" class="tt">IFS - Probas</text><text x="102.10" y="560.40" textLength="31.96" lengthAdjust="spacingAndGlyphs" class="tt">T850</text><text x="142.40" y="560.40" textLength="83.98" lengthAdjust="spacingAndGlyphs" class="tt">standardized</text><text x="230.50" y="560.40" textLength="22.85" lengthAdjust="spacingAndGlyphs" class="tt">ano</text><text x="257.62" y="560.40" textLength="11.58" lengthAdjust="spacingAndGlyphs" class="tt">&gt;</text><text x="273.40" y="560.40" textLength="28.71" lengthAdjust="spacingAndGlyphs" class="tt">than</text><text x="306.00" y="560.40" textLength="6.95" lengthAdjust="spacingAndGlyphs" class="tt">2</text><text x="319.00" y="560.40" textLength="10.76" lengthAdjust="spacingAndGlyphs" class="tt">σ,</text><text x="331.94" y="560.40" textLength="27.43" lengthAdjust="spacingAndGlyphs" class="tt">Init:</text><text x="362.63" y="560.40" textLength="64.18" lengthAdjust="spacingAndGlyphs" class="tt">20251107</text><text x="430.90" y="560.40" textLength="22.17" lengthAdjust="spacingAndGlyphs" class="tt">12z</text><text x="457.43" y="560.40" textLength="5.28" lengthAdjust="spacingAndGlyphs" class="tt">-</text><text x="467.50" y="560.40" textLength="35.89" lengthAdjust="spacingAndGlyphs" class="tt">Valid:</text><text x="506.72" y="560.40" textLength="84.15" lengthAdjust="spacingAndGlyphs" class="tt">20251113:12</text><text x="596.70" y="560.40" textLength="15.42" lengthAdjust="spacingAndGlyphs" class="tt">TU</text>
<rect x="158.50" y="573.20" width="35.27" height="7.4" fill="#FFFF00"/>
<rect x="193.72" y="573.20" width="35.27" height="7.4" fill="#FFDA00"/>
<rect x="228.94" y="573.20" width="35.27" height="7.4" fill="#FFB300"/>
<rect x="264.17" y="573.20" width="35.27" height="7.4" fill="#FF8C00"/>
<rect x="299.39" y="573.20" width="35.27" height="7.4" fill="#FF6600"/>
<rect x="334.61" y="573.20" width="35.27" height="7.4" fill="#FF1A00"/>
<rect x="369.83" y="573.20" width="35.27" height="7.4" fill="#DA0000"/>
<rect x="405.06" y="573.20" width="35.27" height="7.4" fill="#9A0000"/>
<rect x="440.28" y="573.20" width="35.27" height="7.4" fill="#6B0000"/>
<line x1="193.72" y1="573.20" x2="193.72" y2="580.60" stroke="#000" stroke-width="0.8"/>
<line x1="228.94" y1="573.20" x2="228.94" y2="580.60" stroke="#000" stroke-width="0.8"/>
<line x1="264.17" y1="573.20" x2="264.17" y2="580.60" stroke="#000" stroke-width="0.8"/>
<line x1="299.39" y1="573.20" x2="299.39" y2="580.60" stroke="#000" stroke-width="0.8"/>
<line x1="334.61" y1="573.20" x2="334.61" y2="580.60" stroke="#000" stroke-width="0.8"/>
<line x1="369.83" y1="573.20" x2="369.83" y2="580.60" stroke="#000" stroke-width="0.8"/>
<line x1="405.06" y1="573.20" x2="405.06" y2="580.60" stroke="#000" stroke-width="0.8"/>
<line x1="440.28" y1="573.20" x2="440.28" y2="580.60" stroke="#000" stroke-width="0.8"/>
<rect x="158.50" y="573.20" width="317.00" height="7.4" fill="none" stroke="#000" stroke-width="1"/>
<text x="152.45" y="568.70" textLength="12.1" lengthAdjust="spacingAndGlyphs" class="lb">10</text>
<text x="187.67" y="568.70" textLength="12.1" lengthAdjust="spacingAndGlyphs" class="lb">25</text>
<text x="222.89" y="568.70" textLength="12.1" lengthAdjust="spacingAndGlyphs" class="lb">40</text>
<text x="258.12" y="568.70" textLength="12.1" lengthAdjust="spacingAndGlyphs" class="lb">50</text>
<text x="293.34" y="568.70" textLength="12.1" lengthAdjust="spacingAndGlyphs" class="lb">60</text>
<text x="328.56" y="568.70" textLength="12.1" lengthAdjust="spacingAndGlyphs" class="lb">70</text>
<text x="363.78" y="568.70" textLength="12.1" lengthAdjust="spacingAndGlyphs" class="lb">80</text>
<text x="399.01" y="568.70" textLength="12.1" lengthAdjust="spacingAndGlyphs" class="lb">90</text>
<text x="434.23" y="568.70" textLength="12.1" lengthAdjust="spacingAndGlyphs" class="lb">95</text>
<text x="466.35" y="568.70" textLength="18.3" lengthAdjust="spacingAndGlyphs" class="lb">100</text>
<g transform="translate(140,586.20)">
<clipPath id="clip2"><rect x="1" y="0.5" width="352" height="228"/></clipPath>
<g clip-path="url(#clip2)"><rect x="0" y="0" width="353" height="229" fill="#fff"/><polygon points="0.0,-1.0 354.0,-1.0 354.0,231.0 0.0,231.0" fill="#FFFFFF"/>
<polygon points="30.9,230.0 30.0,219.2 28.1,211.7 28.1,204.2 31.8,196.8 37.5,191.1 48.7,187.4 54.3,182.7 45.0,178.0 39.3,172.4 35.6,166.8 39.3,159.3 43.1,151.8 48.7,148.8 58.1,143.2 56.2,140.4 50.6,137.6 45.0,133.9 48.7,130.0 54.3,122.5 56.2,118.7 61.8,115.0 67.4,107.5 71.2,104.7 76.8,101.9 82.4,98.1 86.2,94.4 89.0,90.6 91.8,86.9 97.4,83.1 101.1,79.4 104.9,75.6 108.6,71.9 112.4,68.2 118.0,64.4 117.0,59.7 124.5,56.0 128.2,48.5 133.9,42.9 143.2,40.1 154.5,37.3 163.8,35.4 167.6,31.6 173.2,29.8 182.6,27.9 188.2,22.3 191.9,18.5 199.4,14.8 206.9,12.9 214.4,11.0 221.9,9.2 225.6,7.3 229.4,5.4 235.0,3.0 237.0,-1.0 301.4,-1.0 303.3,7.3 307.0,14.8 305.2,20.4 310.8,26.0 312.7,31.6 308.9,37.3 303.3,42.9 305.2,46.6 312.7,44.8 320.2,46.6 327.6,50.0 331.0,54.0 329.0,58.0 322.0,60.0 312.0,61.6 308.9,61.6 305.0,70.0 307.0,79.5 290.2,83.3 275.2,87.0 265.8,90.8 258.3,94.5 249.0,96.4 234.0,96.4 235.0,103.9 229.4,105.8 223.8,107.6 214.4,110.5 205.0,113.3 199.4,115.1 191.9,117.0 180.7,117.9 173.2,120.8 172.3,124.5 175.1,128.2 182.6,132.0 191.9,133.9 199.4,132.0 206.9,132.0 218.1,135.7 227.5,139.5 235.0,139.5 245.2,137.6 258.3,138.5 271.5,140.4 282.7,145.1 290.2,148.8 295.8,152.0 301.4,159.3 308.9,166.8 314.5,174.3 316.4,185.5 316.4,208.0 314.5,219.2 312.7,231.0 30.9,231.0" fill="#FFFF00"/>
<polygon points="41.0,231.0 41.2,217.4 43.1,198.6 52.4,174.3 48.7,159.3 59.9,150.7 65.6,145.1 71.2,139.5 69.3,132.0 73.0,124.5 78.7,117.0 84.3,109.5 91.8,102.0 99.3,94.5 102.1,89.8 115.0,80.0 136.4,69.8 148.0,60.0 159.8,49.8 169.4,46.6 178.8,44.8 188.2,42.9 195.7,39.1 199.4,33.5 205.0,27.9 210.6,24.2 218.1,22.3 225.6,24.2 233.0,27.0 230.0,38.0 227.0,50.0 224.0,62.0 221.0,68.0 230.0,72.0 245.0,74.0 258.0,76.0 262.0,80.0 260.0,88.0 252.0,92.0 240.0,94.0 233.0,97.0 229.0,103.0 222.0,106.0 214.0,109.0 205.0,111.0 195.7,111.0 182.6,112.5 173.2,111.0 167.6,114.0 167.6,132.0 173.2,135.7 182.6,137.6 195.7,135.7 210.6,137.6 221.9,141.4 235.0,142.0 249.0,144.5 267.7,147.0 279.0,150.7 284.0,154.0 290.2,155.5 297.7,179.9 303.3,208.0 305.2,226.7 305.5,231.0" fill="#FFDA00"/>
<polygon points="48.7,231.0 48.7,217.4 50.6,198.6 60.0,174.3 58.1,159.3 66.4,149.8 74.0,140.0 81.2,129.8 88.0,120.8 95.5,113.3 103.0,105.8 110.5,98.3 118.0,90.8 128.2,78.0 149.8,69.8 160.0,64.0 165.7,59.7 176.9,56.0 188.2,54.1 199.4,54.1 210.6,57.9 218.1,61.6 223.8,65.4 226.0,70.0 221.0,76.0 212.0,80.0 205.0,85.0 200.0,95.0 195.0,104.0 185.0,108.0 172.0,107.0 165.0,111.0 163.0,120.0 163.0,130.0 166.0,137.0 175.0,140.0 190.0,141.0 205.0,141.0 220.0,144.0 235.0,145.0 252.7,149.8 264.0,152.8 282.7,155.5 290.2,179.9 293.9,208.0 295.8,226.7 296.0,231.0" fill="#FFB300"/>
<polygon points="54.3,231.0 54.3,217.4 56.2,198.6 70.0,174.3 65.6,159.3 75.0,149.8 80.0,140.0 85.0,129.8 97.4,122.6 103.0,115.1 110.5,107.6 118.0,100.2 125.0,92.0 135.7,79.5 145.0,78.0 154.5,76.8 165.7,71.0 176.9,65.4 191.9,61.6 201.3,61.6 208.8,67.3 210.0,76.0 203.0,80.0 199.0,90.0 193.0,100.0 185.0,104.0 172.0,104.0 163.0,108.0 160.0,118.0 160.0,130.0 164.0,139.0 175.0,143.0 190.0,144.0 205.0,144.0 220.0,147.0 235.0,148.0 250.0,152.0 262.0,154.0 275.2,155.5 282.7,179.9 288.3,208.0 290.2,226.7 290.5,231.0" fill="#FF8C00"/>
<polygon points="59.9,231.0 59.9,217.4 61.8,198.6 76.0,174.3 71.2,159.3 80.0,155.0 84.5,149.8 87.0,140.0 89.8,129.8 100.0,122.0 106.8,118.9 112.4,113.3 118.0,107.6 125.0,100.0 132.0,94.5 140.0,88.0 150.0,82.0 163.8,80.0 170.0,77.0 180.0,76.0 190.0,76.0 199.0,78.0 203.0,80.0 201.0,82.0 197.0,88.0 194.0,96.0 188.0,104.0 178.0,106.0 170.0,108.0 166.0,113.0 166.0,125.0 168.0,134.0 175.0,139.0 190.0,141.0 205.0,141.0 220.0,145.0 235.0,146.0 255.0,152.0 270.0,155.5 277.1,179.9 282.7,208.0 286.4,226.7 287.0,231.0" fill="#FF6600"/>
<polygon points="65.6,231.0 65.6,217.4 67.4,198.6 82.4,174.3 78.7,159.3 85.0,156.0 90.2,149.8 92.0,140.0 93.6,129.8 100.0,124.0 108.0,118.0 117.1,109.8 125.0,106.0 132.0,100.0 141.3,94.5 150.0,88.0 160.0,83.0 172.0,83.0 183.0,82.0 192.0,83.0 196.0,86.0 195.7,90.0 193.0,96.0 186.0,102.0 176.0,104.0 168.0,107.0 164.0,113.0 164.0,126.0 166.0,135.0 173.0,140.0 190.0,142.0 205.0,142.0 220.0,146.0 235.0,147.0 250.0,152.0 262.0,155.5 271.5,179.9 277.1,208.0 280.8,226.7 281.0,231.0" fill="#FF1A00"/>
<polygon points="95.5,152.8 97.0,147.0 98.0,141.4 99.0,136.0 100.2,129.8 110.0,121.0 122.0,114.0 134.0,109.8 140.0,108.0 155.0,104.0 163.0,96.0 167.0,88.0 175.0,86.0 183.0,90.0 186.0,97.0 183.0,104.0 175.0,106.0 165.0,110.0 160.0,118.0 162.0,128.0 165.7,135.0 165.7,143.2 170.0,148.0 176.0,152.0 180.7,157.4 191.9,156.5 206.9,154.6 221.9,155.5 235.0,157.4 245.0,155.5 256.5,179.9 269.6,208.0 271.5,226.7 272.0,231.0 78.7,231.0 78.7,217.4 74.9,198.6 89.9,174.3 88.0,159.3" fill="#DA0000"/>
<polygon points="138.0,117.0 150.0,114.0 158.2,118.9 163.8,128.2 162.0,139.5 150.7,143.2 140.0,141.0 137.0,132.0" fill="#9A0000"/>
<polygon points="97.4,159.3 104.0,156.0 110.0,160.0 117.0,168.7 135.7,168.7 154.5,166.8 171.3,164.9 178.8,161.2 191.9,159.3 206.9,157.4 221.9,159.3 235.0,163.0 241.5,179.9 256.5,208.0 260.2,226.7 261.0,231.0 86.2,231.0 86.2,217.4 84.3,198.6 104.9,174.3" fill="#9A0000"/>
<polygon points="148.0,122.0 155.0,121.0 160.1,124.5 161.0,132.0 158.2,139.5 151.0,139.0 147.0,131.0" fill="#6B0000"/>
<polygon points="112.4,159.3 117.0,172.4 135.7,172.4 154.5,170.5 173.2,168.7 178.8,164.9 191.9,163.0 206.9,161.2 221.9,164.9 235.0,172.4 234.0,179.9 243.4,208.0 249.0,226.7 250.0,231.0 104.9,231.0 104.9,217.4 97.4,198.6 110.0,174.3" fill="#6B0000"/>
<polygon points="115.0,150.0 140.0,147.0 165.0,148.0 175.0,151.8 173.2,155.5 163.8,161.2 150.7,163.0 135.7,164.9 117.0,165.9 113.0,158.0" fill="#FF1A00"/>
<polygon points="118.0,150.0 140.0,148.5 163.0,150.0 160.1,157.4 145.1,160.2 128.2,161.2 117.0,162.1 115.0,156.0" fill="#FFB300"/>
<polygon points="120.0,151.0 140.0,150.0 160.0,151.8 156.3,155.5 143.2,158.4 128.2,159.3 119.0,158.0" fill="#FFFF00"/>
<polygon points="135.0,151.0 150.0,150.0 158.2,151.8 154.5,154.6 141.3,156.5 135.7,154.6" fill="#FFFFFF"/>
<polygon points="55.0,183.0 62.0,178.0 70.0,173.0 78.0,170.0 80.0,172.0 72.0,177.0 63.0,182.0 56.0,186.0" fill="#FFFF00"/>
<polygon points="88.0,183.0 96.0,179.5 104.0,182.0 106.0,189.0 100.0,194.0 91.0,192.0" fill="#FF1A00"/>
<polygon points="91.0,184.0 97.0,182.0 102.0,185.0 103.0,189.0 98.0,191.0 93.0,189.0" fill="#FFB300"/>
<polygon points="94.0,185.0 99.0,184.5 100.0,188.0 96.0,189.0" fill="#FFFF00"/>
<polygon points="105.0,186.0 112.0,183.0 118.0,185.0 119.0,190.0 112.0,193.0 106.0,191.0" fill="#FF1A00"/>
<polygon points="108.0,187.0 113.0,185.0 116.0,188.0 112.0,190.0" fill="#FFB300"/>
<polygon points="82.0,213.0 88.0,210.0 94.0,213.0 94.0,221.0 88.0,224.0 82.0,220.0" fill="#FF1A00"/>
<polygon points="84.0,214.0 89.0,212.0 92.0,215.0 91.0,220.0 86.0,221.0 84.0,218.0" fill="#FFB300"/>
<polygon points="218.0,94.0 224.0,93.0 229.0,96.0 228.0,102.0 221.0,102.0" fill="#FFB300"/>
<polygon points="234.6,85.0 242.0,84.0 248.6,86.0 246.0,90.5 237.0,90.0" fill="#FFB300"/>
<polygon points="221.0,27.0 235.0,26.0 246.0,28.0 246.0,34.0 235.0,37.3 227.5,35.4" fill="#FFDA00"/>
<polygon points="224.0,28.5 234.0,27.5 236.0,35.0 228.0,34.0" fill="#FFB300"/>
<polygon points="243.4,18.0 252.0,15.0 262.0,15.5 266.0,19.0 260.0,24.0 248.0,24.0" fill="#FFDA00"/>
<polygon points="234.0,52.3 240.0,54.0 241.5,62.0 238.0,67.2 234.0,67.0" fill="#FFDA00"/>
<polygon points="288.3,12.0 293.0,11.0 295.8,14.0 292.0,16.7 289.0,15.5" fill="#FFDA00"/>
<polygon points="203.0,42.0 210.0,41.0 214.0,45.0 209.0,48.5 204.0,47.0" fill="#FFFF00"/>
<polygon points="252.7,42.9 258.3,35.4 269.6,29.8 277.1,29.8 284.6,33.5 295.8,35.4 305.2,33.5 308.9,37.3 303.3,44.8 303.3,52.3 295.8,57.9 288.3,56.0 279.0,56.0 271.5,59.7 262.1,59.7 254.6,54.1" fill="#FFFFFF"/>
<polygon points="326.0,69.0 354.0,67.5 354.0,90.8 338.9,87.0 327.6,81.4 323.9,75.8" fill="#FFFF00"/>
<polygon points="234.0,75.8 308.9,75.8 307.0,79.5 290.2,83.3 275.2,87.0 265.8,90.8 258.3,94.5 249.0,96.4 234.0,96.4" fill="#FFFF00"/>
<polygon points="234.0,79.5 252.7,79.5 262.1,83.3 258.3,88.9 245.2,92.7 234.0,92.7" fill="#FFDA00"/>
<polygon points="234.0,83.3 249.0,83.3 249.0,90.8 234.0,90.8" fill="#FFB300"/><use href="#LN"/>
<text x="182.6" y="205.7" textLength="166" lengthAdjust="spacingAndGlyphs" class="sm">from grib files provided by ECMWF</text>
<text x="240.4" y="224.8" textLength="107.4" lengthAdjust="spacingAndGlyphs" class="sm">©2025 sb@irizone.net</text></g>
</g>
<rect x="141.0" y="586.50" width="351.7" height="228.0" fill="none" stroke="#000" stroke-width="1.0"/>
</svg>
</body></html>
